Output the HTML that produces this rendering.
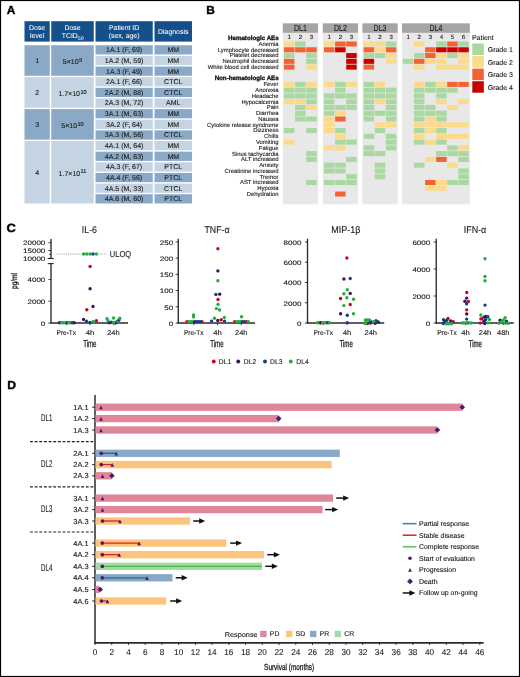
<!DOCTYPE html>
<html><head><meta charset="utf-8"><style>
html,body{margin:0;padding:0;background:#fff;}
body{width:520px;height:677px;overflow:hidden;}
svg{display:block;font-family:"Liberation Sans", sans-serif;will-change:transform;text-rendering:geometricPrecision;}
</style></head><body>
<svg width="520" height="677" viewBox="0 0 520 677">
<rect x="0" y="0" width="520" height="677" fill="#fff"/>
<text x="6.80" y="14.20" font-size="11.8" text-anchor="start" font-weight="bold" fill="#000" stroke="#000" stroke-width="0.4" textLength="8.6" lengthAdjust="spacingAndGlyphs" >A</text>
<text x="206.20" y="14.20" font-size="11.8" text-anchor="start" font-weight="bold" fill="#000" stroke="#000" stroke-width="0.4" textLength="8.6" lengthAdjust="spacingAndGlyphs" >B</text>
<text x="6.50" y="232.20" font-size="11.8" text-anchor="start" font-weight="bold" fill="#000" stroke="#000" stroke-width="0.4" textLength="9.4" lengthAdjust="spacingAndGlyphs" >C</text>
<text x="7.20" y="388.90" font-size="11.8" text-anchor="start" font-weight="bold" fill="#000" stroke="#000" stroke-width="0.4" textLength="8.8" lengthAdjust="spacingAndGlyphs" >D</text>
<rect x="24.50" y="21.20" width="25.25" height="20.40" fill="#15508a" />
<rect x="51.25" y="21.20" width="42.50" height="20.40" fill="#15508a" />
<rect x="95.50" y="21.20" width="57.25" height="20.40" fill="#15508a" />
<rect x="154.50" y="21.20" width="37.50" height="20.40" fill="#15508a" />
<text x="37.12" y="29.60" font-size="6.9" text-anchor="middle" font-weight="normal" fill="#fff" stroke="#fff" stroke-width="0.04" >Dose</text>
<text x="37.12" y="37.80" font-size="6.9" text-anchor="middle" font-weight="normal" fill="#fff" stroke="#fff" stroke-width="0.04" >level</text>
<text x="72.50" y="29.60" font-size="6.9" text-anchor="middle" font-weight="normal" fill="#fff" stroke="#fff" stroke-width="0.04" >Dose</text>
<text x="72.70" y="37.8" font-size="6.9" text-anchor="middle" fill="#fff" stroke="#fff" stroke-width="0.04">TCID<tspan font-size="5.2" dy="2.0">50</tspan></text>
<text x="124.12" y="29.60" font-size="6.9" text-anchor="middle" font-weight="normal" fill="#fff" stroke="#fff" stroke-width="0.04" >Patient ID</text>
<text x="124.12" y="37.80" font-size="6.9" text-anchor="middle" font-weight="normal" fill="#fff" stroke="#fff" stroke-width="0.04" >(sex, age)</text>
<text x="173.25" y="33.70" font-size="6.9" text-anchor="middle" font-weight="normal" fill="#fff" stroke="#fff" stroke-width="0.04" >Diagnosis</text>
<rect x="24.50" y="45.25" width="25.25" height="30.53" fill="#89a9c7" />
<rect x="51.25" y="45.25" width="42.50" height="30.53" fill="#89a9c7" />
<text x="37.12" y="63.02" font-size="7" text-anchor="middle" font-weight="normal" fill="#1a1a1a" stroke="#1a1a1a" stroke-width="0.12" >1</text>
<text x="72.50" y="64.11" font-size="7" text-anchor="middle" fill="#1a1a1a" stroke="#1a1a1a" stroke-width="0.12">5×10<tspan font-size="5.6" dy="-2.4" dx="0.4">9</tspan></text>
<rect x="24.50" y="77.17" width="25.25" height="30.53" fill="#c4d4e2" />
<rect x="51.25" y="77.17" width="42.50" height="30.53" fill="#c4d4e2" />
<text x="37.12" y="94.94" font-size="7" text-anchor="middle" font-weight="normal" fill="#1a1a1a" stroke="#1a1a1a" stroke-width="0.12" >2</text>
<text x="72.50" y="96.03" font-size="7" text-anchor="middle" fill="#1a1a1a" stroke="#1a1a1a" stroke-width="0.12">1.7×10<tspan font-size="5.6" dy="-2.4" dx="0.4">10</tspan></text>
<rect x="24.50" y="109.09" width="25.25" height="30.53" fill="#89a9c7" />
<rect x="51.25" y="109.09" width="42.50" height="30.53" fill="#89a9c7" />
<text x="37.12" y="126.86" font-size="7" text-anchor="middle" font-weight="normal" fill="#1a1a1a" stroke="#1a1a1a" stroke-width="0.12" >3</text>
<text x="72.50" y="127.95" font-size="7" text-anchor="middle" fill="#1a1a1a" stroke="#1a1a1a" stroke-width="0.12">5×10<tspan font-size="5.6" dy="-2.4" dx="0.4">10</tspan></text>
<rect x="24.50" y="141.01" width="25.25" height="62.45" fill="#c4d4e2" />
<rect x="51.25" y="141.01" width="42.50" height="62.45" fill="#c4d4e2" />
<text x="37.12" y="174.74" font-size="7" text-anchor="middle" font-weight="normal" fill="#1a1a1a" stroke="#1a1a1a" stroke-width="0.12" >4</text>
<text x="72.50" y="175.84" font-size="7" text-anchor="middle" fill="#1a1a1a" stroke="#1a1a1a" stroke-width="0.12">1.7×10<tspan font-size="5.6" dy="-2.4" dx="0.4">11</tspan></text>
<rect x="95.50" y="45.25" width="57.25" height="9.25" fill="#89a9c7" />
<rect x="154.50" y="45.25" width="37.50" height="9.25" fill="#89a9c7" />
<text x="124.12" y="52.25" font-size="7" text-anchor="middle" font-weight="normal" fill="#1a1a1a" stroke="#1a1a1a" stroke-width="0.12" >1A.1 (F, 69)</text>
<text x="173.25" y="52.25" font-size="7" text-anchor="middle" font-weight="normal" fill="#1a1a1a" stroke="#1a1a1a" stroke-width="0.12" >MM</text>
<rect x="95.50" y="55.89" width="57.25" height="9.25" fill="#c4d4e2" />
<rect x="154.50" y="55.89" width="37.50" height="9.25" fill="#c4d4e2" />
<text x="124.12" y="62.89" font-size="7" text-anchor="middle" font-weight="normal" fill="#1a1a1a" stroke="#1a1a1a" stroke-width="0.12" >1A.2 (M, 59)</text>
<text x="173.25" y="62.89" font-size="7" text-anchor="middle" font-weight="normal" fill="#1a1a1a" stroke="#1a1a1a" stroke-width="0.12" >MM</text>
<rect x="95.50" y="66.53" width="57.25" height="9.25" fill="#89a9c7" />
<rect x="154.50" y="66.53" width="37.50" height="9.25" fill="#89a9c7" />
<text x="124.12" y="73.53" font-size="7" text-anchor="middle" font-weight="normal" fill="#1a1a1a" stroke="#1a1a1a" stroke-width="0.12" >1A.3 (F, 49)</text>
<text x="173.25" y="73.53" font-size="7" text-anchor="middle" font-weight="normal" fill="#1a1a1a" stroke="#1a1a1a" stroke-width="0.12" >MM</text>
<rect x="95.50" y="77.17" width="57.25" height="9.25" fill="#c4d4e2" />
<rect x="154.50" y="77.17" width="37.50" height="9.25" fill="#c4d4e2" />
<text x="124.12" y="84.17" font-size="7" text-anchor="middle" font-weight="normal" fill="#1a1a1a" stroke="#1a1a1a" stroke-width="0.12" >2A.1 (F, 66)</text>
<text x="173.25" y="84.17" font-size="7" text-anchor="middle" font-weight="normal" fill="#1a1a1a" stroke="#1a1a1a" stroke-width="0.12" >CTCL</text>
<rect x="95.50" y="87.81" width="57.25" height="9.25" fill="#89a9c7" />
<rect x="154.50" y="87.81" width="37.50" height="9.25" fill="#89a9c7" />
<text x="124.12" y="94.81" font-size="7" text-anchor="middle" font-weight="normal" fill="#1a1a1a" stroke="#1a1a1a" stroke-width="0.12" >2A.2 (M, 88)</text>
<text x="173.25" y="94.81" font-size="7" text-anchor="middle" font-weight="normal" fill="#1a1a1a" stroke="#1a1a1a" stroke-width="0.12" >CTCL</text>
<rect x="95.50" y="98.45" width="57.25" height="9.25" fill="#c4d4e2" />
<rect x="154.50" y="98.45" width="37.50" height="9.25" fill="#c4d4e2" />
<text x="124.12" y="105.45" font-size="7" text-anchor="middle" font-weight="normal" fill="#1a1a1a" stroke="#1a1a1a" stroke-width="0.12" >2A.3 (M, 72)</text>
<text x="173.25" y="105.45" font-size="7" text-anchor="middle" font-weight="normal" fill="#1a1a1a" stroke="#1a1a1a" stroke-width="0.12" >AML</text>
<rect x="95.50" y="109.09" width="57.25" height="9.25" fill="#89a9c7" />
<rect x="154.50" y="109.09" width="37.50" height="9.25" fill="#89a9c7" />
<text x="124.12" y="116.09" font-size="7" text-anchor="middle" font-weight="normal" fill="#1a1a1a" stroke="#1a1a1a" stroke-width="0.12" >3A.1 (M, 63)</text>
<text x="173.25" y="116.09" font-size="7" text-anchor="middle" font-weight="normal" fill="#1a1a1a" stroke="#1a1a1a" stroke-width="0.12" >MM</text>
<rect x="95.50" y="119.73" width="57.25" height="9.25" fill="#c4d4e2" />
<rect x="154.50" y="119.73" width="37.50" height="9.25" fill="#c4d4e2" />
<text x="124.12" y="126.73" font-size="7" text-anchor="middle" font-weight="normal" fill="#1a1a1a" stroke="#1a1a1a" stroke-width="0.12" >3A.2 (F, 64)</text>
<text x="173.25" y="126.73" font-size="7" text-anchor="middle" font-weight="normal" fill="#1a1a1a" stroke="#1a1a1a" stroke-width="0.12" >MM</text>
<rect x="95.50" y="130.37" width="57.25" height="9.25" fill="#89a9c7" />
<rect x="154.50" y="130.37" width="37.50" height="9.25" fill="#89a9c7" />
<text x="124.12" y="137.37" font-size="7" text-anchor="middle" font-weight="normal" fill="#1a1a1a" stroke="#1a1a1a" stroke-width="0.12" >3A.3 (M, 56)</text>
<text x="173.25" y="137.37" font-size="7" text-anchor="middle" font-weight="normal" fill="#1a1a1a" stroke="#1a1a1a" stroke-width="0.12" >CTCL</text>
<rect x="95.50" y="141.01" width="57.25" height="9.25" fill="#c4d4e2" />
<rect x="154.50" y="141.01" width="37.50" height="9.25" fill="#c4d4e2" />
<text x="124.12" y="148.01" font-size="7" text-anchor="middle" font-weight="normal" fill="#1a1a1a" stroke="#1a1a1a" stroke-width="0.12" >4A.1 (M, 64)</text>
<text x="173.25" y="148.01" font-size="7" text-anchor="middle" font-weight="normal" fill="#1a1a1a" stroke="#1a1a1a" stroke-width="0.12" >MM</text>
<rect x="95.50" y="151.65" width="57.25" height="9.25" fill="#89a9c7" />
<rect x="154.50" y="151.65" width="37.50" height="9.25" fill="#89a9c7" />
<text x="124.12" y="158.65" font-size="7" text-anchor="middle" font-weight="normal" fill="#1a1a1a" stroke="#1a1a1a" stroke-width="0.12" >4A.2 (M, 63)</text>
<text x="173.25" y="158.65" font-size="7" text-anchor="middle" font-weight="normal" fill="#1a1a1a" stroke="#1a1a1a" stroke-width="0.12" >MM</text>
<rect x="95.50" y="162.29" width="57.25" height="9.25" fill="#c4d4e2" />
<rect x="154.50" y="162.29" width="37.50" height="9.25" fill="#c4d4e2" />
<text x="124.12" y="169.29" font-size="7" text-anchor="middle" font-weight="normal" fill="#1a1a1a" stroke="#1a1a1a" stroke-width="0.12" >4A.3 (F, 67)</text>
<text x="173.25" y="169.29" font-size="7" text-anchor="middle" font-weight="normal" fill="#1a1a1a" stroke="#1a1a1a" stroke-width="0.12" >PTCL</text>
<rect x="95.50" y="172.93" width="57.25" height="9.25" fill="#89a9c7" />
<rect x="154.50" y="172.93" width="37.50" height="9.25" fill="#89a9c7" />
<text x="124.12" y="179.93" font-size="7" text-anchor="middle" font-weight="normal" fill="#1a1a1a" stroke="#1a1a1a" stroke-width="0.12" >4A.4 (F, 56)</text>
<text x="173.25" y="179.93" font-size="7" text-anchor="middle" font-weight="normal" fill="#1a1a1a" stroke="#1a1a1a" stroke-width="0.12" >PTCL</text>
<rect x="95.50" y="183.57" width="57.25" height="9.25" fill="#c4d4e2" />
<rect x="154.50" y="183.57" width="37.50" height="9.25" fill="#c4d4e2" />
<text x="124.12" y="190.57" font-size="7" text-anchor="middle" font-weight="normal" fill="#1a1a1a" stroke="#1a1a1a" stroke-width="0.12" >4A.5 (M, 33)</text>
<text x="173.25" y="190.57" font-size="7" text-anchor="middle" font-weight="normal" fill="#1a1a1a" stroke="#1a1a1a" stroke-width="0.12" >CTCL</text>
<rect x="95.50" y="194.21" width="57.25" height="9.25" fill="#89a9c7" />
<rect x="154.50" y="194.21" width="37.50" height="9.25" fill="#89a9c7" />
<text x="124.12" y="201.21" font-size="7" text-anchor="middle" font-weight="normal" fill="#1a1a1a" stroke="#1a1a1a" stroke-width="0.12" >4A.6 (M, 60)</text>
<text x="173.25" y="201.21" font-size="7" text-anchor="middle" font-weight="normal" fill="#1a1a1a" stroke="#1a1a1a" stroke-width="0.12" >PTCL</text>
<rect x="282.75" y="23.30" width="35.35" height="9.60" fill="#a8a4a3" />
<rect x="282.75" y="32.90" width="35.35" height="171.40" fill="#e8e8e8" />
<text x="300.43" y="30.80" font-size="8.9" text-anchor="middle" font-weight="normal" fill="#1a1a1a" stroke="#1a1a1a" stroke-width="0.12" textLength="12.9" lengthAdjust="spacingAndGlyphs" >DL1</text>
<text x="289.25" y="39.40" font-size="6.1" text-anchor="middle" font-weight="normal" fill="#1a1a1a" stroke="#1a1a1a" stroke-width="0.1" >1</text>
<text x="300.35" y="39.40" font-size="6.1" text-anchor="middle" font-weight="normal" fill="#1a1a1a" stroke="#1a1a1a" stroke-width="0.1" >2</text>
<text x="311.45" y="39.40" font-size="6.1" text-anchor="middle" font-weight="normal" fill="#1a1a1a" stroke="#1a1a1a" stroke-width="0.1" >3</text>
<rect x="322.75" y="23.30" width="35.35" height="9.60" fill="#a8a4a3" />
<rect x="322.75" y="32.90" width="35.35" height="171.40" fill="#e8e8e8" />
<text x="340.43" y="30.80" font-size="8.9" text-anchor="middle" font-weight="normal" fill="#1a1a1a" stroke="#1a1a1a" stroke-width="0.12" textLength="12.9" lengthAdjust="spacingAndGlyphs" >DL2</text>
<text x="329.25" y="39.40" font-size="6.1" text-anchor="middle" font-weight="normal" fill="#1a1a1a" stroke="#1a1a1a" stroke-width="0.1" >1</text>
<text x="340.35" y="39.40" font-size="6.1" text-anchor="middle" font-weight="normal" fill="#1a1a1a" stroke="#1a1a1a" stroke-width="0.1" >2</text>
<text x="351.45" y="39.40" font-size="6.1" text-anchor="middle" font-weight="normal" fill="#1a1a1a" stroke="#1a1a1a" stroke-width="0.1" >3</text>
<rect x="362.40" y="23.30" width="35.35" height="9.60" fill="#a8a4a3" />
<rect x="362.40" y="32.90" width="35.35" height="171.40" fill="#e8e8e8" />
<text x="380.07" y="30.80" font-size="8.9" text-anchor="middle" font-weight="normal" fill="#1a1a1a" stroke="#1a1a1a" stroke-width="0.12" textLength="12.9" lengthAdjust="spacingAndGlyphs" >DL3</text>
<text x="368.90" y="39.40" font-size="6.1" text-anchor="middle" font-weight="normal" fill="#1a1a1a" stroke="#1a1a1a" stroke-width="0.1" >1</text>
<text x="380.00" y="39.40" font-size="6.1" text-anchor="middle" font-weight="normal" fill="#1a1a1a" stroke="#1a1a1a" stroke-width="0.1" >2</text>
<text x="391.10" y="39.40" font-size="6.1" text-anchor="middle" font-weight="normal" fill="#1a1a1a" stroke="#1a1a1a" stroke-width="0.1" >3</text>
<rect x="402.00" y="23.30" width="67.80" height="9.60" fill="#a8a4a3" />
<rect x="402.00" y="32.90" width="67.80" height="171.40" fill="#e8e8e8" />
<text x="435.90" y="30.80" font-size="8.9" text-anchor="middle" font-weight="normal" fill="#1a1a1a" stroke="#1a1a1a" stroke-width="0.12" textLength="12.9" lengthAdjust="spacingAndGlyphs" >DL4</text>
<text x="408.20" y="39.40" font-size="6.1" text-anchor="middle" font-weight="normal" fill="#1a1a1a" stroke="#1a1a1a" stroke-width="0.1" >1</text>
<text x="419.27" y="39.40" font-size="6.1" text-anchor="middle" font-weight="normal" fill="#1a1a1a" stroke="#1a1a1a" stroke-width="0.1" >2</text>
<text x="430.34" y="39.40" font-size="6.1" text-anchor="middle" font-weight="normal" fill="#1a1a1a" stroke="#1a1a1a" stroke-width="0.1" >3</text>
<text x="441.41" y="39.40" font-size="6.1" text-anchor="middle" font-weight="normal" fill="#1a1a1a" stroke="#1a1a1a" stroke-width="0.1" >4</text>
<text x="452.48" y="39.40" font-size="6.1" text-anchor="middle" font-weight="normal" fill="#1a1a1a" stroke="#1a1a1a" stroke-width="0.1" >5</text>
<text x="463.55" y="39.40" font-size="6.1" text-anchor="middle" font-weight="normal" fill="#1a1a1a" stroke="#1a1a1a" stroke-width="0.1" >6</text>
<rect x="284.00" y="41.50" width="10.50" height="5.05" fill="#fdd98a" />
<rect x="295.10" y="41.50" width="10.50" height="5.05" fill="#a9d8a1" />
<rect x="324.00" y="41.50" width="10.50" height="5.05" fill="#fdd98a" />
<rect x="335.10" y="41.50" width="10.50" height="5.05" fill="#f16335" />
<rect x="346.20" y="41.50" width="10.50" height="5.05" fill="#f16335" />
<rect x="363.65" y="41.50" width="10.50" height="5.05" fill="#fdd98a" />
<rect x="374.75" y="41.50" width="10.50" height="5.05" fill="#fdd98a" />
<rect x="385.85" y="41.50" width="10.50" height="5.05" fill="#a9d8a1" />
<rect x="414.02" y="41.50" width="10.50" height="5.05" fill="#fdd98a" />
<rect x="436.16" y="41.50" width="10.50" height="5.05" fill="#a9d8a1" />
<rect x="447.23" y="41.50" width="10.50" height="5.05" fill="#f16335" />
<rect x="458.30" y="41.50" width="10.50" height="5.05" fill="#a9d8a1" />
<rect x="284.00" y="47.27" width="10.50" height="5.05" fill="#f16335" />
<rect x="295.10" y="47.27" width="10.50" height="5.05" fill="#f16335" />
<rect x="306.20" y="47.27" width="10.50" height="5.05" fill="#f16335" />
<rect x="324.00" y="47.27" width="10.50" height="5.05" fill="#f16335" />
<rect x="335.10" y="47.27" width="10.50" height="5.05" fill="#c90000" />
<rect x="363.65" y="47.27" width="10.50" height="5.05" fill="#f16335" />
<rect x="374.75" y="47.27" width="10.50" height="5.05" fill="#fdd98a" />
<rect x="385.85" y="47.27" width="10.50" height="5.05" fill="#f16335" />
<rect x="425.09" y="47.27" width="10.50" height="5.05" fill="#f16335" />
<rect x="436.16" y="47.27" width="10.50" height="5.05" fill="#c90000" />
<rect x="447.23" y="47.27" width="10.50" height="5.05" fill="#c90000" />
<rect x="458.30" y="47.27" width="10.50" height="5.05" fill="#c90000" />
<rect x="284.00" y="53.04" width="10.50" height="5.05" fill="#a9d8a1" />
<rect x="306.20" y="53.04" width="10.50" height="5.05" fill="#a9d8a1" />
<rect x="346.20" y="53.04" width="10.50" height="5.05" fill="#c90000" />
<rect x="363.65" y="53.04" width="10.50" height="5.05" fill="#a9d8a1" />
<rect x="374.75" y="53.04" width="10.50" height="5.05" fill="#a9d8a1" />
<rect x="385.85" y="53.04" width="10.50" height="5.05" fill="#fdd98a" />
<rect x="414.02" y="53.04" width="10.50" height="5.05" fill="#a9d8a1" />
<rect x="425.09" y="53.04" width="10.50" height="5.05" fill="#f16335" />
<rect x="436.16" y="53.04" width="10.50" height="5.05" fill="#fdd98a" />
<rect x="447.23" y="53.04" width="10.50" height="5.05" fill="#a9d8a1" />
<rect x="458.30" y="53.04" width="10.50" height="5.05" fill="#fdd98a" />
<rect x="284.00" y="58.81" width="10.50" height="5.05" fill="#f16335" />
<rect x="306.20" y="58.81" width="10.50" height="5.05" fill="#a9d8a1" />
<rect x="346.20" y="58.81" width="10.50" height="5.05" fill="#c90000" />
<rect x="363.65" y="58.81" width="10.50" height="5.05" fill="#c90000" />
<rect x="385.85" y="58.81" width="10.50" height="5.05" fill="#fdd98a" />
<rect x="402.95" y="58.81" width="10.50" height="5.05" fill="#a9d8a1" />
<rect x="414.02" y="58.81" width="10.50" height="5.05" fill="#f16335" />
<rect x="425.09" y="58.81" width="10.50" height="5.05" fill="#fdd98a" />
<rect x="436.16" y="58.81" width="10.50" height="5.05" fill="#fdd98a" />
<rect x="458.30" y="58.81" width="10.50" height="5.05" fill="#fdd98a" />
<rect x="284.00" y="64.58" width="10.50" height="5.05" fill="#f16335" />
<rect x="306.20" y="64.58" width="10.50" height="5.05" fill="#fdd98a" />
<rect x="346.20" y="64.58" width="10.50" height="5.05" fill="#c90000" />
<rect x="363.65" y="64.58" width="10.50" height="5.05" fill="#f16335" />
<rect x="414.02" y="64.58" width="10.50" height="5.05" fill="#fdd98a" />
<rect x="436.16" y="64.58" width="10.50" height="5.05" fill="#fdd98a" />
<rect x="447.23" y="64.58" width="10.50" height="5.05" fill="#fdd98a" />
<rect x="458.30" y="64.58" width="10.50" height="5.05" fill="#fdd98a" />
<rect x="284.00" y="81.89" width="10.50" height="5.05" fill="#fdd98a" />
<rect x="295.10" y="81.89" width="10.50" height="5.05" fill="#a9d8a1" />
<rect x="306.20" y="81.89" width="10.50" height="5.05" fill="#fdd98a" />
<rect x="324.00" y="81.89" width="10.50" height="5.05" fill="#fdd98a" />
<rect x="335.10" y="81.89" width="10.50" height="5.05" fill="#a9d8a1" />
<rect x="346.20" y="81.89" width="10.50" height="5.05" fill="#fdd98a" />
<rect x="363.65" y="81.89" width="10.50" height="5.05" fill="#a9d8a1" />
<rect x="374.75" y="81.89" width="10.50" height="5.05" fill="#fdd98a" />
<rect x="414.02" y="81.89" width="10.50" height="5.05" fill="#fdd98a" />
<rect x="425.09" y="81.89" width="10.50" height="5.05" fill="#a9d8a1" />
<rect x="436.16" y="81.89" width="10.50" height="5.05" fill="#fdd98a" />
<rect x="447.23" y="81.89" width="10.50" height="5.05" fill="#f16335" />
<rect x="458.30" y="81.89" width="10.50" height="5.05" fill="#f16335" />
<rect x="284.00" y="87.66" width="10.50" height="5.05" fill="#a9d8a1" />
<rect x="295.10" y="87.66" width="10.50" height="5.05" fill="#a9d8a1" />
<rect x="306.20" y="87.66" width="10.50" height="5.05" fill="#a9d8a1" />
<rect x="335.10" y="87.66" width="10.50" height="5.05" fill="#a9d8a1" />
<rect x="363.65" y="87.66" width="10.50" height="5.05" fill="#a9d8a1" />
<rect x="374.75" y="87.66" width="10.50" height="5.05" fill="#a9d8a1" />
<rect x="385.85" y="87.66" width="10.50" height="5.05" fill="#a9d8a1" />
<rect x="414.02" y="87.66" width="10.50" height="5.05" fill="#a9d8a1" />
<rect x="425.09" y="87.66" width="10.50" height="5.05" fill="#a9d8a1" />
<rect x="436.16" y="87.66" width="10.50" height="5.05" fill="#a9d8a1" />
<rect x="447.23" y="87.66" width="10.50" height="5.05" fill="#a9d8a1" />
<rect x="284.00" y="93.43" width="10.50" height="5.05" fill="#a9d8a1" />
<rect x="295.10" y="93.43" width="10.50" height="5.05" fill="#a9d8a1" />
<rect x="306.20" y="93.43" width="10.50" height="5.05" fill="#a9d8a1" />
<rect x="324.00" y="93.43" width="10.50" height="5.05" fill="#a9d8a1" />
<rect x="335.10" y="93.43" width="10.50" height="5.05" fill="#a9d8a1" />
<rect x="346.20" y="93.43" width="10.50" height="5.05" fill="#a9d8a1" />
<rect x="363.65" y="93.43" width="10.50" height="5.05" fill="#a9d8a1" />
<rect x="374.75" y="93.43" width="10.50" height="5.05" fill="#a9d8a1" />
<rect x="385.85" y="93.43" width="10.50" height="5.05" fill="#a9d8a1" />
<rect x="414.02" y="93.43" width="10.50" height="5.05" fill="#a9d8a1" />
<rect x="436.16" y="93.43" width="10.50" height="5.05" fill="#a9d8a1" />
<rect x="284.00" y="99.20" width="10.50" height="5.05" fill="#fdd98a" />
<rect x="295.10" y="99.20" width="10.50" height="5.05" fill="#fdd98a" />
<rect x="306.20" y="99.20" width="10.50" height="5.05" fill="#a9d8a1" />
<rect x="324.00" y="99.20" width="10.50" height="5.05" fill="#a9d8a1" />
<rect x="346.20" y="99.20" width="10.50" height="5.05" fill="#a9d8a1" />
<rect x="363.65" y="99.20" width="10.50" height="5.05" fill="#a9d8a1" />
<rect x="374.75" y="99.20" width="10.50" height="5.05" fill="#fdd98a" />
<rect x="385.85" y="99.20" width="10.50" height="5.05" fill="#a9d8a1" />
<rect x="414.02" y="99.20" width="10.50" height="5.05" fill="#a9d8a1" />
<rect x="436.16" y="99.20" width="10.50" height="5.05" fill="#fdd98a" />
<rect x="458.30" y="99.20" width="10.50" height="5.05" fill="#fdd98a" />
<rect x="295.10" y="104.97" width="10.50" height="5.05" fill="#a9d8a1" />
<rect x="306.20" y="104.97" width="10.50" height="5.05" fill="#fdd98a" />
<rect x="324.00" y="104.97" width="10.50" height="5.05" fill="#a9d8a1" />
<rect x="335.10" y="104.97" width="10.50" height="5.05" fill="#a9d8a1" />
<rect x="346.20" y="104.97" width="10.50" height="5.05" fill="#a9d8a1" />
<rect x="363.65" y="104.97" width="10.50" height="5.05" fill="#a9d8a1" />
<rect x="385.85" y="104.97" width="10.50" height="5.05" fill="#a9d8a1" />
<rect x="414.02" y="104.97" width="10.50" height="5.05" fill="#a9d8a1" />
<rect x="425.09" y="104.97" width="10.50" height="5.05" fill="#a9d8a1" />
<rect x="447.23" y="104.97" width="10.50" height="5.05" fill="#fdd98a" />
<rect x="295.10" y="110.74" width="10.50" height="5.05" fill="#a9d8a1" />
<rect x="324.00" y="110.74" width="10.50" height="5.05" fill="#a9d8a1" />
<rect x="335.10" y="110.74" width="10.50" height="5.05" fill="#fdd98a" />
<rect x="363.65" y="110.74" width="10.50" height="5.05" fill="#a9d8a1" />
<rect x="374.75" y="110.74" width="10.50" height="5.05" fill="#a9d8a1" />
<rect x="385.85" y="110.74" width="10.50" height="5.05" fill="#a9d8a1" />
<rect x="414.02" y="110.74" width="10.50" height="5.05" fill="#a9d8a1" />
<rect x="425.09" y="110.74" width="10.50" height="5.05" fill="#a9d8a1" />
<rect x="436.16" y="110.74" width="10.50" height="5.05" fill="#a9d8a1" />
<rect x="295.10" y="116.51" width="10.50" height="5.05" fill="#a9d8a1" />
<rect x="306.20" y="116.51" width="10.50" height="5.05" fill="#a9d8a1" />
<rect x="324.00" y="116.51" width="10.50" height="5.05" fill="#fdd98a" />
<rect x="335.10" y="116.51" width="10.50" height="5.05" fill="#f16335" />
<rect x="363.65" y="116.51" width="10.50" height="5.05" fill="#a9d8a1" />
<rect x="385.85" y="116.51" width="10.50" height="5.05" fill="#a9d8a1" />
<rect x="414.02" y="116.51" width="10.50" height="5.05" fill="#a9d8a1" />
<rect x="425.09" y="116.51" width="10.50" height="5.05" fill="#fdd98a" />
<rect x="436.16" y="116.51" width="10.50" height="5.05" fill="#a9d8a1" />
<rect x="324.00" y="122.28" width="10.50" height="5.05" fill="#fdd98a" />
<rect x="374.75" y="122.28" width="10.50" height="5.05" fill="#fdd98a" />
<rect x="385.85" y="122.28" width="10.50" height="5.05" fill="#fdd98a" />
<rect x="414.02" y="122.28" width="10.50" height="5.05" fill="#fdd98a" />
<rect x="425.09" y="122.28" width="10.50" height="5.05" fill="#fdd98a" />
<rect x="436.16" y="122.28" width="10.50" height="5.05" fill="#fdd98a" />
<rect x="447.23" y="122.28" width="10.50" height="5.05" fill="#fdd98a" />
<rect x="458.30" y="122.28" width="10.50" height="5.05" fill="#fdd98a" />
<rect x="284.00" y="128.05" width="10.50" height="5.05" fill="#a9d8a1" />
<rect x="306.20" y="128.05" width="10.50" height="5.05" fill="#a9d8a1" />
<rect x="324.00" y="128.05" width="10.50" height="5.05" fill="#fdd98a" />
<rect x="335.10" y="128.05" width="10.50" height="5.05" fill="#a9d8a1" />
<rect x="374.75" y="128.05" width="10.50" height="5.05" fill="#a9d8a1" />
<rect x="414.02" y="128.05" width="10.50" height="5.05" fill="#a9d8a1" />
<rect x="425.09" y="128.05" width="10.50" height="5.05" fill="#fdd98a" />
<rect x="436.16" y="128.05" width="10.50" height="5.05" fill="#a9d8a1" />
<rect x="335.10" y="133.82" width="10.50" height="5.05" fill="#fdd98a" />
<rect x="363.65" y="133.82" width="10.50" height="5.05" fill="#a9d8a1" />
<rect x="385.85" y="133.82" width="10.50" height="5.05" fill="#a9d8a1" />
<rect x="414.02" y="133.82" width="10.50" height="5.05" fill="#fdd98a" />
<rect x="436.16" y="133.82" width="10.50" height="5.05" fill="#fdd98a" />
<rect x="447.23" y="133.82" width="10.50" height="5.05" fill="#fdd98a" />
<rect x="458.30" y="133.82" width="10.50" height="5.05" fill="#fdd98a" />
<rect x="284.00" y="139.59" width="10.50" height="5.05" fill="#fdd98a" />
<rect x="335.10" y="139.59" width="10.50" height="5.05" fill="#a9d8a1" />
<rect x="346.20" y="139.59" width="10.50" height="5.05" fill="#a9d8a1" />
<rect x="385.85" y="139.59" width="10.50" height="5.05" fill="#a9d8a1" />
<rect x="414.02" y="139.59" width="10.50" height="5.05" fill="#a9d8a1" />
<rect x="425.09" y="139.59" width="10.50" height="5.05" fill="#fdd98a" />
<rect x="436.16" y="139.59" width="10.50" height="5.05" fill="#a9d8a1" />
<rect x="324.00" y="145.36" width="10.50" height="5.05" fill="#fdd98a" />
<rect x="335.10" y="145.36" width="10.50" height="5.05" fill="#fdd98a" />
<rect x="363.65" y="145.36" width="10.50" height="5.05" fill="#a9d8a1" />
<rect x="385.85" y="145.36" width="10.50" height="5.05" fill="#a9d8a1" />
<rect x="447.23" y="145.36" width="10.50" height="5.05" fill="#a9d8a1" />
<rect x="458.30" y="145.36" width="10.50" height="5.05" fill="#fdd98a" />
<rect x="306.20" y="151.13" width="10.50" height="5.05" fill="#a9d8a1" />
<rect x="363.65" y="151.13" width="10.50" height="5.05" fill="#a9d8a1" />
<rect x="374.75" y="151.13" width="10.50" height="5.05" fill="#a9d8a1" />
<rect x="436.16" y="151.13" width="10.50" height="5.05" fill="#a9d8a1" />
<rect x="447.23" y="151.13" width="10.50" height="5.05" fill="#a9d8a1" />
<rect x="458.30" y="151.13" width="10.50" height="5.05" fill="#a9d8a1" />
<rect x="306.20" y="156.90" width="10.50" height="5.05" fill="#a9d8a1" />
<rect x="346.20" y="156.90" width="10.50" height="5.05" fill="#a9d8a1" />
<rect x="425.09" y="156.90" width="10.50" height="5.05" fill="#fdd98a" />
<rect x="436.16" y="156.90" width="10.50" height="5.05" fill="#f16335" />
<rect x="458.30" y="156.90" width="10.50" height="5.05" fill="#a9d8a1" />
<rect x="324.00" y="162.67" width="10.50" height="5.05" fill="#a9d8a1" />
<rect x="335.10" y="162.67" width="10.50" height="5.05" fill="#a9d8a1" />
<rect x="374.75" y="162.67" width="10.50" height="5.05" fill="#a9d8a1" />
<rect x="414.02" y="162.67" width="10.50" height="5.05" fill="#a9d8a1" />
<rect x="447.23" y="162.67" width="10.50" height="5.05" fill="#fdd98a" />
<rect x="324.00" y="168.44" width="10.50" height="5.05" fill="#a9d8a1" />
<rect x="335.10" y="168.44" width="10.50" height="5.05" fill="#a9d8a1" />
<rect x="374.75" y="168.44" width="10.50" height="5.05" fill="#a9d8a1" />
<rect x="458.30" y="168.44" width="10.50" height="5.05" fill="#a9d8a1" />
<rect x="346.20" y="174.21" width="10.50" height="5.05" fill="#a9d8a1" />
<rect x="374.75" y="174.21" width="10.50" height="5.05" fill="#a9d8a1" />
<rect x="458.30" y="174.21" width="10.50" height="5.05" fill="#a9d8a1" />
<rect x="306.20" y="179.98" width="10.50" height="5.05" fill="#a9d8a1" />
<rect x="324.00" y="179.98" width="10.50" height="5.05" fill="#a9d8a1" />
<rect x="335.10" y="179.98" width="10.50" height="5.05" fill="#a9d8a1" />
<rect x="346.20" y="179.98" width="10.50" height="5.05" fill="#a9d8a1" />
<rect x="425.09" y="179.98" width="10.50" height="5.05" fill="#f16335" />
<rect x="436.16" y="179.98" width="10.50" height="5.05" fill="#fdd98a" />
<rect x="447.23" y="179.98" width="10.50" height="5.05" fill="#a9d8a1" />
<rect x="458.30" y="179.98" width="10.50" height="5.05" fill="#a9d8a1" />
<rect x="425.09" y="185.75" width="10.50" height="5.05" fill="#fdd98a" />
<rect x="436.16" y="185.75" width="10.50" height="5.05" fill="#fdd98a" />
<rect x="335.10" y="191.52" width="10.50" height="5.05" fill="#f16335" />
<text x="278.50" y="45.90" font-size="5.9" text-anchor="end" font-weight="normal" fill="#222" stroke="#222" stroke-width="0.12" >Anemia</text>
<text x="278.50" y="51.67" font-size="5.9" text-anchor="end" font-weight="normal" fill="#222" stroke="#222" stroke-width="0.12" >Lymphocyte decreased</text>
<text x="278.50" y="57.44" font-size="5.9" text-anchor="end" font-weight="normal" fill="#222" stroke="#222" stroke-width="0.12" >Platelet decreased</text>
<text x="278.50" y="63.21" font-size="5.9" text-anchor="end" font-weight="normal" fill="#222" stroke="#222" stroke-width="0.12" >Neutrophil decreased</text>
<text x="278.50" y="68.98" font-size="5.9" text-anchor="end" font-weight="normal" fill="#222" stroke="#222" stroke-width="0.12" >White blood cell decreased</text>
<text x="278.50" y="86.29" font-size="5.9" text-anchor="end" font-weight="normal" fill="#222" stroke="#222" stroke-width="0.12" >Fever</text>
<text x="278.50" y="92.06" font-size="5.9" text-anchor="end" font-weight="normal" fill="#222" stroke="#222" stroke-width="0.12" >Anorexia</text>
<text x="278.50" y="97.83" font-size="5.9" text-anchor="end" font-weight="normal" fill="#222" stroke="#222" stroke-width="0.12" >Headache</text>
<text x="278.50" y="103.60" font-size="5.9" text-anchor="end" font-weight="normal" fill="#222" stroke="#222" stroke-width="0.12" >Hypocalcemia</text>
<text x="278.50" y="109.37" font-size="5.9" text-anchor="end" font-weight="normal" fill="#222" stroke="#222" stroke-width="0.12" >Pain</text>
<text x="278.50" y="115.14" font-size="5.9" text-anchor="end" font-weight="normal" fill="#222" stroke="#222" stroke-width="0.12" >Diarrhea</text>
<text x="278.50" y="120.91" font-size="5.9" text-anchor="end" font-weight="normal" fill="#222" stroke="#222" stroke-width="0.12" >Nausea</text>
<text x="278.50" y="126.68" font-size="5.9" text-anchor="end" font-weight="normal" fill="#222" stroke="#222" stroke-width="0.12" >Cytokine release syndrome</text>
<text x="278.50" y="132.45" font-size="5.9" text-anchor="end" font-weight="normal" fill="#222" stroke="#222" stroke-width="0.12" >Dizziness</text>
<text x="278.50" y="138.22" font-size="5.9" text-anchor="end" font-weight="normal" fill="#222" stroke="#222" stroke-width="0.12" >Chills</text>
<text x="278.50" y="143.99" font-size="5.9" text-anchor="end" font-weight="normal" fill="#222" stroke="#222" stroke-width="0.12" >Vomiting</text>
<text x="278.50" y="149.76" font-size="5.9" text-anchor="end" font-weight="normal" fill="#222" stroke="#222" stroke-width="0.12" >Fatigue</text>
<text x="278.50" y="155.53" font-size="5.9" text-anchor="end" font-weight="normal" fill="#222" stroke="#222" stroke-width="0.12" >Sinus tachycardia</text>
<text x="278.50" y="161.30" font-size="5.9" text-anchor="end" font-weight="normal" fill="#222" stroke="#222" stroke-width="0.12" >ALT increased</text>
<text x="278.50" y="167.07" font-size="5.9" text-anchor="end" font-weight="normal" fill="#222" stroke="#222" stroke-width="0.12" >Anxiety</text>
<text x="278.50" y="172.84" font-size="5.9" text-anchor="end" font-weight="normal" fill="#222" stroke="#222" stroke-width="0.12" >Creatinine increased</text>
<text x="278.50" y="178.61" font-size="5.9" text-anchor="end" font-weight="normal" fill="#222" stroke="#222" stroke-width="0.12" >Tremor</text>
<text x="278.50" y="184.38" font-size="5.9" text-anchor="end" font-weight="normal" fill="#222" stroke="#222" stroke-width="0.12" >AST increased</text>
<text x="278.50" y="190.15" font-size="5.9" text-anchor="end" font-weight="normal" fill="#222" stroke="#222" stroke-width="0.12" >Hypoxia</text>
<text x="278.50" y="195.92" font-size="5.9" text-anchor="end" font-weight="normal" fill="#222" stroke="#222" stroke-width="0.12" >Dehydration</text>
<text x="278.70" y="39.70" font-size="6.2" text-anchor="end" font-weight="bold" fill="#111" stroke="#111" stroke-width="0.3" >Hematologic AEs</text>
<text x="278.70" y="79.90" font-size="6.2" text-anchor="end" font-weight="bold" fill="#111" stroke="#111" stroke-width="0.3" >Non-hematologic AEs</text>
<text x="471.90" y="39.80" font-size="7" text-anchor="start" font-weight="normal" fill="#222" stroke="#222" stroke-width="0.12" >Patient</text>
<rect x="472.30" y="43.50" width="11.50" height="11.50" fill="#a9d8a1" />
<text x="487.70" y="52.30" font-size="7" text-anchor="start" font-weight="normal" fill="#1a1a1a" stroke="#1a1a1a" stroke-width="0.12" >Grade 1</text>
<rect x="472.30" y="56.07" width="11.50" height="11.50" fill="#fdd98a" />
<text x="487.70" y="64.87" font-size="7" text-anchor="start" font-weight="normal" fill="#1a1a1a" stroke="#1a1a1a" stroke-width="0.12" >Grade 2</text>
<rect x="472.30" y="68.64" width="11.50" height="11.50" fill="#f16335" />
<text x="487.70" y="77.44" font-size="7" text-anchor="start" font-weight="normal" fill="#1a1a1a" stroke="#1a1a1a" stroke-width="0.12" >Grade 3</text>
<rect x="472.30" y="81.21" width="11.50" height="11.50" fill="#c90000" />
<text x="487.70" y="90.01" font-size="7" text-anchor="start" font-weight="normal" fill="#1a1a1a" stroke="#1a1a1a" stroke-width="0.12" >Grade 4</text>
<line x1="51.00" y1="239.10" x2="51.00" y2="258.50" stroke="#2a2a2a" stroke-width="1.35" />
<line x1="51.00" y1="263.60" x2="51.00" y2="323.60" stroke="#2a2a2a" stroke-width="1.35" />
<line x1="47.75" y1="258.50" x2="53.75" y2="258.50" stroke="#2a2a2a" stroke-width="1.1" />
<line x1="47.75" y1="263.60" x2="53.75" y2="263.60" stroke="#2a2a2a" stroke-width="1.1" />
<line x1="49.00" y1="250.60" x2="51.00" y2="250.60" stroke="#2a2a2a" stroke-width="0.8" />
<line x1="49.00" y1="254.40" x2="51.00" y2="254.40" stroke="#2a2a2a" stroke-width="0.8" />
<line x1="50.40" y1="323.00" x2="128.00" y2="323.00" stroke="#2a2a2a" stroke-width="1.35" />
<line x1="48.40" y1="242.70" x2="51.00" y2="242.70" stroke="#2a2a2a" stroke-width="0.9" />
<text x="45.30" y="244.85" font-size="6.4" text-anchor="end" font-weight="normal" fill="#1a1a1a" stroke="#1a1a1a" stroke-width="0.12" textLength="22.25" lengthAdjust="spacingAndGlyphs" >20000</text>
<line x1="48.40" y1="250.50" x2="51.00" y2="250.50" stroke="#2a2a2a" stroke-width="0.9" />
<text x="45.30" y="252.55" font-size="6.4" text-anchor="end" font-weight="normal" fill="#1a1a1a" stroke="#1a1a1a" stroke-width="0.12" textLength="22.25" lengthAdjust="spacingAndGlyphs" >15000</text>
<line x1="48.40" y1="258.40" x2="51.00" y2="258.40" stroke="#2a2a2a" stroke-width="0.9" />
<text x="45.30" y="260.55" font-size="6.4" text-anchor="end" font-weight="normal" fill="#1a1a1a" stroke="#1a1a1a" stroke-width="0.12" textLength="22.25" lengthAdjust="spacingAndGlyphs" >10000</text>
<line x1="48.40" y1="279.50" x2="51.00" y2="279.50" stroke="#2a2a2a" stroke-width="0.9" />
<text x="45.30" y="282.25" font-size="6.4" text-anchor="end" font-weight="normal" fill="#1a1a1a" stroke="#1a1a1a" stroke-width="0.12" textLength="17.8" lengthAdjust="spacingAndGlyphs" >4000</text>
<line x1="48.40" y1="301.25" x2="51.00" y2="301.25" stroke="#2a2a2a" stroke-width="0.9" />
<text x="45.30" y="304.00" font-size="6.4" text-anchor="end" font-weight="normal" fill="#1a1a1a" stroke="#1a1a1a" stroke-width="0.12" textLength="17.8" lengthAdjust="spacingAndGlyphs" >2000</text>
<line x1="48.40" y1="323.00" x2="51.00" y2="323.00" stroke="#2a2a2a" stroke-width="0.9" />
<text x="45.30" y="325.75" font-size="6.4" text-anchor="end" font-weight="normal" fill="#1a1a1a" stroke="#1a1a1a" stroke-width="0.12" textLength="4.45" lengthAdjust="spacingAndGlyphs" >0</text>
<line x1="66.30" y1="323.00" x2="66.30" y2="325.20" stroke="#2a2a2a" stroke-width="0.9" />
<text x="66.30" y="334.50" font-size="7.0" text-anchor="middle" font-weight="normal" fill="#1a1a1a" stroke="#1a1a1a" stroke-width="0.12" textLength="19.5" lengthAdjust="spacingAndGlyphs" >Pre-Tx</text>
<line x1="90.00" y1="323.00" x2="90.00" y2="325.20" stroke="#2a2a2a" stroke-width="0.9" />
<text x="90.00" y="334.50" font-size="7.0" text-anchor="middle" font-weight="normal" fill="#1a1a1a" stroke="#1a1a1a" stroke-width="0.12" textLength="8.6" lengthAdjust="spacingAndGlyphs" >4h</text>
<line x1="113.40" y1="323.00" x2="113.40" y2="325.20" stroke="#2a2a2a" stroke-width="0.9" />
<text x="113.40" y="334.50" font-size="7.0" text-anchor="middle" font-weight="normal" fill="#1a1a1a" stroke="#1a1a1a" stroke-width="0.12" textLength="12.5" lengthAdjust="spacingAndGlyphs" >24h</text>
<text x="89.40" y="233.10" font-size="9.7" text-anchor="middle" font-weight="normal" fill="#1a1a1a" stroke="#1a1a1a" stroke-width="0.12" textLength="15.2" lengthAdjust="spacingAndGlyphs" >IL-6</text>
<text x="89.80" y="347.10" font-size="9.9" text-anchor="middle" font-weight="normal" fill="#1a1a1a" stroke="#1a1a1a" stroke-width="0.3" textLength="13.3" lengthAdjust="spacingAndGlyphs" >Time</text>
<line x1="56.50" y1="254.10" x2="106.30" y2="254.10" stroke="#8a8a8a" stroke-width="0.8" stroke-dasharray="1 0.9"/>
<text x="109.80" y="256.90" font-size="8.5" text-anchor="start" font-weight="normal" fill="#1a1a1a" stroke="#1a1a1a" stroke-width="0.12" textLength="21.3" lengthAdjust="spacingAndGlyphs" >ULOQ</text>
<text transform="translate(16.7,281.0) rotate(-90)" font-size="8.2" text-anchor="middle" fill="#1a1a1a" stroke="#1a1a1a" stroke-width="0.3" textLength="16" lengthAdjust="spacingAndGlyphs">pg/ml</text>
<line x1="178.25" y1="238.75" x2="178.25" y2="323.60" stroke="#2a2a2a" stroke-width="1.35" />
<line x1="177.65" y1="323.00" x2="255.00" y2="323.00" stroke="#2a2a2a" stroke-width="1.35" />
<line x1="175.65" y1="323.00" x2="178.25" y2="323.00" stroke="#2a2a2a" stroke-width="0.9" />
<text x="173.20" y="325.75" font-size="6.4" text-anchor="end" font-weight="normal" fill="#1a1a1a" stroke="#1a1a1a" stroke-width="0.12" textLength="4.45" lengthAdjust="spacingAndGlyphs" >0</text>
<line x1="175.65" y1="306.78" x2="178.25" y2="306.78" stroke="#2a2a2a" stroke-width="0.9" />
<text x="173.20" y="309.53" font-size="6.4" text-anchor="end" font-weight="normal" fill="#1a1a1a" stroke="#1a1a1a" stroke-width="0.12" textLength="8.9" lengthAdjust="spacingAndGlyphs" >50</text>
<line x1="175.65" y1="290.56" x2="178.25" y2="290.56" stroke="#2a2a2a" stroke-width="0.9" />
<text x="173.20" y="293.31" font-size="6.4" text-anchor="end" font-weight="normal" fill="#1a1a1a" stroke="#1a1a1a" stroke-width="0.12" textLength="13.350000000000001" lengthAdjust="spacingAndGlyphs" >100</text>
<line x1="175.65" y1="274.34" x2="178.25" y2="274.34" stroke="#2a2a2a" stroke-width="0.9" />
<text x="173.20" y="277.09" font-size="6.4" text-anchor="end" font-weight="normal" fill="#1a1a1a" stroke="#1a1a1a" stroke-width="0.12" textLength="13.350000000000001" lengthAdjust="spacingAndGlyphs" >150</text>
<line x1="175.65" y1="258.12" x2="178.25" y2="258.12" stroke="#2a2a2a" stroke-width="0.9" />
<text x="173.20" y="260.87" font-size="6.4" text-anchor="end" font-weight="normal" fill="#1a1a1a" stroke="#1a1a1a" stroke-width="0.12" textLength="13.350000000000001" lengthAdjust="spacingAndGlyphs" >200</text>
<line x1="175.65" y1="241.90" x2="178.25" y2="241.90" stroke="#2a2a2a" stroke-width="0.9" />
<text x="173.20" y="244.65" font-size="6.4" text-anchor="end" font-weight="normal" fill="#1a1a1a" stroke="#1a1a1a" stroke-width="0.12" textLength="13.350000000000001" lengthAdjust="spacingAndGlyphs" >250</text>
<line x1="193.75" y1="323.00" x2="193.75" y2="325.20" stroke="#2a2a2a" stroke-width="0.9" />
<text x="193.75" y="334.50" font-size="7.0" text-anchor="middle" font-weight="normal" fill="#1a1a1a" stroke="#1a1a1a" stroke-width="0.12" textLength="19.5" lengthAdjust="spacingAndGlyphs" >Pre-Tx</text>
<line x1="217.50" y1="323.00" x2="217.50" y2="325.20" stroke="#2a2a2a" stroke-width="0.9" />
<text x="217.50" y="334.50" font-size="7.0" text-anchor="middle" font-weight="normal" fill="#1a1a1a" stroke="#1a1a1a" stroke-width="0.12" textLength="8.6" lengthAdjust="spacingAndGlyphs" >4h</text>
<line x1="241.25" y1="323.00" x2="241.25" y2="325.20" stroke="#2a2a2a" stroke-width="0.9" />
<text x="241.25" y="334.50" font-size="7.0" text-anchor="middle" font-weight="normal" fill="#1a1a1a" stroke="#1a1a1a" stroke-width="0.12" textLength="12.5" lengthAdjust="spacingAndGlyphs" >24h</text>
<text x="217.00" y="233.10" font-size="9.7" text-anchor="middle" font-weight="normal" fill="#1a1a1a" stroke="#1a1a1a" stroke-width="0.12" textLength="25" lengthAdjust="spacingAndGlyphs" >TNF-α</text>
<text x="216.93" y="347.10" font-size="9.9" text-anchor="middle" font-weight="normal" fill="#1a1a1a" stroke="#1a1a1a" stroke-width="0.3" textLength="13.3" lengthAdjust="spacingAndGlyphs" >Time</text>
<line x1="307.50" y1="238.75" x2="307.50" y2="323.60" stroke="#2a2a2a" stroke-width="1.35" />
<line x1="306.90" y1="323.00" x2="384.25" y2="323.00" stroke="#2a2a2a" stroke-width="1.35" />
<line x1="304.90" y1="323.00" x2="307.50" y2="323.00" stroke="#2a2a2a" stroke-width="0.9" />
<text x="301.40" y="325.75" font-size="6.4" text-anchor="end" font-weight="normal" fill="#1a1a1a" stroke="#1a1a1a" stroke-width="0.12" textLength="4.45" lengthAdjust="spacingAndGlyphs" >0</text>
<line x1="304.90" y1="302.75" x2="307.50" y2="302.75" stroke="#2a2a2a" stroke-width="0.9" />
<text x="301.40" y="305.50" font-size="6.4" text-anchor="end" font-weight="normal" fill="#1a1a1a" stroke="#1a1a1a" stroke-width="0.12" textLength="17.8" lengthAdjust="spacingAndGlyphs" >2000</text>
<line x1="304.90" y1="282.50" x2="307.50" y2="282.50" stroke="#2a2a2a" stroke-width="0.9" />
<text x="301.40" y="285.25" font-size="6.4" text-anchor="end" font-weight="normal" fill="#1a1a1a" stroke="#1a1a1a" stroke-width="0.12" textLength="17.8" lengthAdjust="spacingAndGlyphs" >4000</text>
<line x1="304.90" y1="262.25" x2="307.50" y2="262.25" stroke="#2a2a2a" stroke-width="0.9" />
<text x="301.40" y="265.00" font-size="6.4" text-anchor="end" font-weight="normal" fill="#1a1a1a" stroke="#1a1a1a" stroke-width="0.12" textLength="17.8" lengthAdjust="spacingAndGlyphs" >6000</text>
<line x1="304.90" y1="242.00" x2="307.50" y2="242.00" stroke="#2a2a2a" stroke-width="0.9" />
<text x="301.40" y="244.75" font-size="6.4" text-anchor="end" font-weight="normal" fill="#1a1a1a" stroke="#1a1a1a" stroke-width="0.12" textLength="17.8" lengthAdjust="spacingAndGlyphs" >8000</text>
<line x1="323.25" y1="323.00" x2="323.25" y2="325.20" stroke="#2a2a2a" stroke-width="0.9" />
<text x="323.25" y="334.50" font-size="7.0" text-anchor="middle" font-weight="normal" fill="#1a1a1a" stroke="#1a1a1a" stroke-width="0.12" textLength="19.5" lengthAdjust="spacingAndGlyphs" >Pre-Tx</text>
<line x1="347.00" y1="323.00" x2="347.00" y2="325.20" stroke="#2a2a2a" stroke-width="0.9" />
<text x="347.00" y="334.50" font-size="7.0" text-anchor="middle" font-weight="normal" fill="#1a1a1a" stroke="#1a1a1a" stroke-width="0.12" textLength="8.6" lengthAdjust="spacingAndGlyphs" >4h</text>
<line x1="370.75" y1="323.00" x2="370.75" y2="325.20" stroke="#2a2a2a" stroke-width="0.9" />
<text x="370.75" y="334.50" font-size="7.0" text-anchor="middle" font-weight="normal" fill="#1a1a1a" stroke="#1a1a1a" stroke-width="0.12" textLength="12.5" lengthAdjust="spacingAndGlyphs" >24h</text>
<text x="345.90" y="233.10" font-size="9.7" text-anchor="middle" font-weight="normal" fill="#1a1a1a" stroke="#1a1a1a" stroke-width="0.12" textLength="29.2" lengthAdjust="spacingAndGlyphs" >MIP-1β</text>
<text x="346.18" y="347.10" font-size="9.9" text-anchor="middle" font-weight="normal" fill="#1a1a1a" stroke="#1a1a1a" stroke-width="0.3" textLength="13.3" lengthAdjust="spacingAndGlyphs" >Time</text>
<line x1="436.25" y1="238.75" x2="436.25" y2="323.60" stroke="#2a2a2a" stroke-width="1.35" />
<line x1="435.65" y1="323.00" x2="513.75" y2="323.00" stroke="#2a2a2a" stroke-width="1.35" />
<line x1="433.65" y1="323.00" x2="436.25" y2="323.00" stroke="#2a2a2a" stroke-width="0.9" />
<text x="430.20" y="325.75" font-size="6.4" text-anchor="end" font-weight="normal" fill="#1a1a1a" stroke="#1a1a1a" stroke-width="0.12" textLength="4.45" lengthAdjust="spacingAndGlyphs" >0</text>
<line x1="433.65" y1="296.00" x2="436.25" y2="296.00" stroke="#2a2a2a" stroke-width="0.9" />
<text x="430.20" y="298.75" font-size="6.4" text-anchor="end" font-weight="normal" fill="#1a1a1a" stroke="#1a1a1a" stroke-width="0.12" textLength="17.8" lengthAdjust="spacingAndGlyphs" >2000</text>
<line x1="433.65" y1="269.00" x2="436.25" y2="269.00" stroke="#2a2a2a" stroke-width="0.9" />
<text x="430.20" y="271.75" font-size="6.4" text-anchor="end" font-weight="normal" fill="#1a1a1a" stroke="#1a1a1a" stroke-width="0.12" textLength="17.8" lengthAdjust="spacingAndGlyphs" >4000</text>
<line x1="433.65" y1="242.00" x2="436.25" y2="242.00" stroke="#2a2a2a" stroke-width="0.9" />
<text x="430.20" y="244.75" font-size="6.4" text-anchor="end" font-weight="normal" fill="#1a1a1a" stroke="#1a1a1a" stroke-width="0.12" textLength="17.8" lengthAdjust="spacingAndGlyphs" >6000</text>
<line x1="447.00" y1="323.00" x2="447.00" y2="325.20" stroke="#2a2a2a" stroke-width="0.9" />
<text x="447.00" y="334.50" font-size="7.0" text-anchor="middle" font-weight="normal" fill="#1a1a1a" stroke="#1a1a1a" stroke-width="0.12" textLength="19.5" lengthAdjust="spacingAndGlyphs" >Pre-Tx</text>
<line x1="465.50" y1="323.00" x2="465.50" y2="325.20" stroke="#2a2a2a" stroke-width="0.9" />
<text x="465.50" y="334.50" font-size="7.0" text-anchor="middle" font-weight="normal" fill="#1a1a1a" stroke="#1a1a1a" stroke-width="0.12" textLength="8.6" lengthAdjust="spacingAndGlyphs" >4h</text>
<line x1="485.00" y1="323.00" x2="485.00" y2="325.20" stroke="#2a2a2a" stroke-width="0.9" />
<text x="485.00" y="334.50" font-size="7.0" text-anchor="middle" font-weight="normal" fill="#1a1a1a" stroke="#1a1a1a" stroke-width="0.12" textLength="12.5" lengthAdjust="spacingAndGlyphs" >24h</text>
<line x1="503.25" y1="323.00" x2="503.25" y2="325.20" stroke="#2a2a2a" stroke-width="0.9" />
<text x="503.25" y="334.50" font-size="7.0" text-anchor="middle" font-weight="normal" fill="#1a1a1a" stroke="#1a1a1a" stroke-width="0.12" textLength="12.5" lengthAdjust="spacingAndGlyphs" >48h</text>
<text x="475.00" y="233.10" font-size="9.7" text-anchor="middle" font-weight="normal" fill="#1a1a1a" stroke="#1a1a1a" stroke-width="0.12" textLength="22.5" lengthAdjust="spacingAndGlyphs" >IFN-α</text>
<text x="475.30" y="347.10" font-size="9.9" text-anchor="middle" font-weight="normal" fill="#1a1a1a" stroke="#1a1a1a" stroke-width="0.3" textLength="13.3" lengthAdjust="spacingAndGlyphs" >Time</text>
<circle cx="59.50" cy="322.70" r="1.68" fill="#430e61"/>
<circle cx="74.20" cy="322.70" r="1.68" fill="#430e61"/>
<circle cx="61.50" cy="322.70" r="1.68" fill="#25ab3e"/>
<circle cx="63.50" cy="322.70" r="1.68" fill="#25ab3e"/>
<circle cx="65.50" cy="322.70" r="1.68" fill="#25ab3e"/>
<circle cx="67.20" cy="322.70" r="1.68" fill="#0f4082"/>
<circle cx="68.80" cy="322.70" r="1.68" fill="#25ab3e"/>
<circle cx="70.50" cy="322.70" r="1.68" fill="#25ab3e"/>
<circle cx="72.30" cy="322.70" r="1.68" fill="#0f4082"/>
<circle cx="83.65" cy="254.00" r="1.68" fill="#25ab3e"/>
<circle cx="86.80" cy="254.00" r="1.68" fill="#25ab3e"/>
<circle cx="90.00" cy="254.00" r="1.68" fill="#25ab3e"/>
<circle cx="96.35" cy="254.00" r="1.68" fill="#25ab3e"/>
<circle cx="93.00" cy="254.00" r="1.68" fill="#0f4082"/>
<circle cx="90.10" cy="266.40" r="1.68" fill="#c9031f"/>
<circle cx="90.10" cy="288.70" r="1.68" fill="#430e61"/>
<circle cx="93.00" cy="306.50" r="1.68" fill="#430e61"/>
<circle cx="86.80" cy="309.75" r="1.68" fill="#c9031f"/>
<circle cx="83.50" cy="319.40" r="1.68" fill="#430e61"/>
<circle cx="86.50" cy="321.15" r="1.68" fill="#0f4082"/>
<circle cx="90.00" cy="322.50" r="1.68" fill="#0f4082"/>
<circle cx="93.20" cy="321.50" r="1.68" fill="#25ab3e"/>
<circle cx="96.40" cy="320.70" r="1.68" fill="#c9031f"/>
<circle cx="109.00" cy="322.75" r="1.68" fill="#430e61"/>
<circle cx="115.50" cy="323.00" r="1.68" fill="#430e61"/>
<circle cx="107.00" cy="318.75" r="1.68" fill="#25ab3e"/>
<circle cx="108.00" cy="320.75" r="1.68" fill="#25ab3e"/>
<circle cx="111.25" cy="322.25" r="1.68" fill="#0f4082"/>
<circle cx="113.50" cy="318.00" r="1.68" fill="#25ab3e"/>
<circle cx="113.60" cy="322.50" r="1.68" fill="#25ab3e"/>
<circle cx="117.00" cy="321.75" r="1.68" fill="#0f4082"/>
<circle cx="118.00" cy="321.50" r="1.68" fill="#25ab3e"/>
<circle cx="119.00" cy="320.00" r="1.68" fill="#0f4082"/>
<circle cx="119.75" cy="318.25" r="1.68" fill="#25ab3e"/>
<circle cx="187.00" cy="321.60" r="1.68" fill="#c9031f"/>
<circle cx="201.90" cy="321.60" r="1.68" fill="#c9031f"/>
<circle cx="188.50" cy="321.60" r="1.68" fill="#25ab3e"/>
<circle cx="190.30" cy="321.60" r="1.68" fill="#25ab3e"/>
<circle cx="192.20" cy="321.60" r="1.68" fill="#25ab3e"/>
<circle cx="194.60" cy="321.60" r="1.68" fill="#430e61"/>
<circle cx="196.60" cy="321.60" r="1.68" fill="#0f4082"/>
<circle cx="198.50" cy="321.60" r="1.68" fill="#0f4082"/>
<circle cx="200.20" cy="321.60" r="1.68" fill="#0f4082"/>
<circle cx="193.60" cy="314.90" r="1.68" fill="#25ab3e"/>
<circle cx="193.60" cy="316.90" r="1.68" fill="#25ab3e"/>
<circle cx="217.90" cy="248.80" r="1.68" fill="#c9031f"/>
<circle cx="217.90" cy="270.90" r="1.68" fill="#430e61"/>
<circle cx="217.90" cy="280.70" r="1.68" fill="#25ab3e"/>
<circle cx="215.85" cy="294.50" r="1.68" fill="#0f4082"/>
<circle cx="219.70" cy="294.15" r="1.68" fill="#430e61"/>
<circle cx="218.00" cy="299.50" r="1.68" fill="#c9031f"/>
<circle cx="218.00" cy="304.40" r="1.68" fill="#25ab3e"/>
<circle cx="216.40" cy="308.60" r="1.68" fill="#25ab3e"/>
<circle cx="219.55" cy="309.95" r="1.68" fill="#25ab3e"/>
<circle cx="214.50" cy="318.20" r="1.68" fill="#25ab3e"/>
<circle cx="211.60" cy="321.10" r="1.68" fill="#0f4082"/>
<circle cx="217.80" cy="320.40" r="1.68" fill="#430e61"/>
<circle cx="221.20" cy="319.80" r="1.68" fill="#c9031f"/>
<circle cx="224.35" cy="317.40" r="1.68" fill="#25ab3e"/>
<circle cx="224.50" cy="321.10" r="1.68" fill="#0f4082"/>
<circle cx="234.70" cy="321.60" r="1.68" fill="#c9031f"/>
<circle cx="246.60" cy="321.60" r="1.68" fill="#c9031f"/>
<circle cx="236.30" cy="321.60" r="1.68" fill="#25ab3e"/>
<circle cx="238.20" cy="321.60" r="1.68" fill="#25ab3e"/>
<circle cx="240.10" cy="321.60" r="1.68" fill="#25ab3e"/>
<circle cx="242.30" cy="321.60" r="1.68" fill="#0f4082"/>
<circle cx="244.30" cy="321.60" r="1.68" fill="#0f4082"/>
<circle cx="248.30" cy="321.60" r="1.68" fill="#25ab3e"/>
<circle cx="241.50" cy="316.70" r="1.68" fill="#25ab3e"/>
<circle cx="320.60" cy="322.75" r="1.68" fill="#c9031f"/>
<circle cx="317.50" cy="322.75" r="1.68" fill="#25ab3e"/>
<circle cx="319.20" cy="322.75" r="1.68" fill="#25ab3e"/>
<circle cx="320.80" cy="322.75" r="1.68" fill="#430e61"/>
<circle cx="322.60" cy="322.75" r="1.68" fill="#25ab3e"/>
<circle cx="324.40" cy="322.75" r="1.68" fill="#25ab3e"/>
<circle cx="326.10" cy="322.75" r="1.68" fill="#25ab3e"/>
<circle cx="327.80" cy="322.75" r="1.68" fill="#0f4082"/>
<circle cx="329.50" cy="322.75" r="1.68" fill="#25ab3e"/>
<circle cx="346.90" cy="258.00" r="1.68" fill="#c9031f"/>
<circle cx="343.90" cy="279.00" r="1.68" fill="#430e61"/>
<circle cx="350.20" cy="278.50" r="1.68" fill="#0f4082"/>
<circle cx="347.30" cy="289.70" r="1.68" fill="#25ab3e"/>
<circle cx="343.90" cy="293.80" r="1.68" fill="#25ab3e"/>
<circle cx="350.20" cy="293.40" r="1.68" fill="#430e61"/>
<circle cx="340.60" cy="298.50" r="1.68" fill="#c9031f"/>
<circle cx="346.90" cy="297.70" r="1.68" fill="#25ab3e"/>
<circle cx="353.50" cy="299.30" r="1.68" fill="#25ab3e"/>
<circle cx="343.90" cy="305.60" r="1.68" fill="#25ab3e"/>
<circle cx="350.20" cy="304.50" r="1.68" fill="#c9031f"/>
<circle cx="340.60" cy="313.80" r="1.68" fill="#430e61"/>
<circle cx="353.50" cy="313.80" r="1.68" fill="#25ab3e"/>
<circle cx="347.30" cy="315.20" r="1.68" fill="#0f4082"/>
<circle cx="347.30" cy="322.60" r="1.68" fill="#0f4082"/>
<circle cx="367.50" cy="323.50" r="1.68" fill="#c9031f"/>
<circle cx="375.00" cy="323.25" r="1.68" fill="#430e61"/>
<circle cx="376.00" cy="320.75" r="1.68" fill="#c9031f"/>
<circle cx="365.00" cy="323.50" r="1.68" fill="#25ab3e"/>
<circle cx="365.60" cy="322.50" r="1.68" fill="#25ab3e"/>
<circle cx="365.50" cy="320.00" r="1.68" fill="#25ab3e"/>
<circle cx="367.50" cy="320.00" r="1.68" fill="#25ab3e"/>
<circle cx="369.50" cy="320.00" r="1.68" fill="#25ab3e"/>
<circle cx="369.75" cy="322.75" r="1.68" fill="#0f4082"/>
<circle cx="371.25" cy="322.00" r="1.68" fill="#0f4082"/>
<circle cx="373.75" cy="321.75" r="1.68" fill="#25ab3e"/>
<circle cx="377.50" cy="321.75" r="1.68" fill="#0f4082"/>
<circle cx="378.50" cy="322.25" r="1.68" fill="#0f4082"/>
<circle cx="443.50" cy="319.75" r="1.68" fill="#0f4082"/>
<circle cx="443.25" cy="323.50" r="1.68" fill="#0f4082"/>
<circle cx="445.00" cy="321.75" r="1.68" fill="#430e61"/>
<circle cx="446.75" cy="320.25" r="1.68" fill="#0f4082"/>
<circle cx="448.00" cy="318.50" r="1.68" fill="#c9031f"/>
<circle cx="450.75" cy="321.00" r="1.68" fill="#430e61"/>
<circle cx="453.25" cy="321.75" r="1.68" fill="#c9031f"/>
<circle cx="446.25" cy="323.75" r="1.68" fill="#25ab3e"/>
<circle cx="448.75" cy="323.75" r="1.68" fill="#25ab3e"/>
<circle cx="451.50" cy="323.75" r="1.68" fill="#25ab3e"/>
<circle cx="466.75" cy="292.50" r="1.68" fill="#c9031f"/>
<circle cx="466.65" cy="298.10" r="1.68" fill="#430e61"/>
<circle cx="464.90" cy="301.20" r="1.68" fill="#430e61"/>
<circle cx="468.40" cy="301.40" r="1.68" fill="#c9031f"/>
<circle cx="466.65" cy="303.75" r="1.68" fill="#0f4082"/>
<circle cx="466.65" cy="309.85" r="1.68" fill="#c9031f"/>
<circle cx="466.65" cy="313.90" r="1.68" fill="#430e61"/>
<circle cx="466.65" cy="319.10" r="1.68" fill="#0f4082"/>
<circle cx="462.00" cy="322.90" r="1.68" fill="#25ab3e"/>
<circle cx="464.00" cy="322.90" r="1.68" fill="#25ab3e"/>
<circle cx="467.70" cy="322.90" r="1.68" fill="#0f4082"/>
<circle cx="466.00" cy="322.90" r="1.68" fill="#25ab3e"/>
<circle cx="469.30" cy="322.90" r="1.68" fill="#25ab3e"/>
<circle cx="471.50" cy="322.90" r="1.68" fill="#25ab3e"/>
<circle cx="485.00" cy="258.70" r="1.68" fill="#25ab3e"/>
<circle cx="485.00" cy="276.40" r="1.68" fill="#25ab3e"/>
<circle cx="485.00" cy="280.70" r="1.68" fill="#25ab3e"/>
<circle cx="485.00" cy="305.10" r="1.68" fill="#0f4082"/>
<circle cx="480.85" cy="315.00" r="1.68" fill="#25ab3e"/>
<circle cx="480.85" cy="318.85" r="1.68" fill="#c9031f"/>
<circle cx="481.90" cy="318.85" r="1.68" fill="#c9031f"/>
<circle cx="484.00" cy="317.10" r="1.68" fill="#430e61"/>
<circle cx="485.70" cy="316.40" r="1.68" fill="#430e61"/>
<circle cx="487.80" cy="316.80" r="1.68" fill="#0f4082"/>
<circle cx="485.70" cy="319.50" r="1.68" fill="#0f4082"/>
<circle cx="489.50" cy="319.50" r="1.68" fill="#25ab3e"/>
<circle cx="484.00" cy="321.30" r="1.68" fill="#430e61"/>
<circle cx="480.20" cy="323.10" r="1.68" fill="#c9031f"/>
<circle cx="487.80" cy="322.90" r="1.68" fill="#25ab3e"/>
<circle cx="484.70" cy="323.40" r="1.68" fill="#430e61"/>
<circle cx="500.10" cy="320.15" r="1.68" fill="#430e61"/>
<circle cx="505.15" cy="317.60" r="1.68" fill="#25ab3e"/>
<circle cx="503.50" cy="319.90" r="1.68" fill="#25ab3e"/>
<circle cx="501.90" cy="321.75" r="1.68" fill="#25ab3e"/>
<circle cx="498.90" cy="323.15" r="1.68" fill="#25ab3e"/>
<circle cx="505.15" cy="323.15" r="1.68" fill="#25ab3e"/>
<circle cx="506.50" cy="321.10" r="1.68" fill="#0f4082"/>
<circle cx="508.15" cy="323.40" r="1.68" fill="#25ab3e"/>
<circle cx="213.75" cy="361.50" r="1.95" fill="#c9031f"/>
<text x="218.75" y="364.00" font-size="7" text-anchor="start" font-weight="normal" fill="#222" stroke="#222" stroke-width="0.12" textLength="12.4" lengthAdjust="spacingAndGlyphs" >DL1</text>
<circle cx="238.25" cy="361.50" r="1.95" fill="#430e61"/>
<text x="243.75" y="364.00" font-size="7" text-anchor="start" font-weight="normal" fill="#222" stroke="#222" stroke-width="0.12" textLength="12.4" lengthAdjust="spacingAndGlyphs" >DL2</text>
<circle cx="265.00" cy="361.50" r="1.95" fill="#0f4082"/>
<text x="270.00" y="364.00" font-size="7" text-anchor="start" font-weight="normal" fill="#222" stroke="#222" stroke-width="0.12" textLength="12.4" lengthAdjust="spacingAndGlyphs" >DL3</text>
<circle cx="290.75" cy="361.50" r="1.95" fill="#25ab3e"/>
<text x="296.25" y="364.00" font-size="7" text-anchor="start" font-weight="normal" fill="#222" stroke="#222" stroke-width="0.12" textLength="12.4" lengthAdjust="spacingAndGlyphs" >DL4</text>
<line x1="95.00" y1="395.00" x2="95.00" y2="643.50" stroke="#2a2a2a" stroke-width="1.5" />
<line x1="94.30" y1="642.80" x2="483.60" y2="642.80" stroke="#2a2a2a" stroke-width="1.7" />
<line x1="95.00" y1="642.70" x2="95.00" y2="645.00" stroke="#2a2a2a" stroke-width="0.9" />
<text x="95.00" y="655.20" font-size="8.3" text-anchor="middle" font-weight="normal" fill="#1a1a1a" stroke="#1a1a1a" stroke-width="0.1" textLength="4.55" lengthAdjust="spacingAndGlyphs" >0</text>
<line x1="111.73" y1="642.70" x2="111.73" y2="645.00" stroke="#2a2a2a" stroke-width="0.9" />
<text x="111.73" y="655.20" font-size="8.3" text-anchor="middle" font-weight="normal" fill="#1a1a1a" stroke="#1a1a1a" stroke-width="0.1" textLength="4.55" lengthAdjust="spacingAndGlyphs" >2</text>
<line x1="128.46" y1="642.70" x2="128.46" y2="645.00" stroke="#2a2a2a" stroke-width="0.9" />
<text x="128.46" y="655.20" font-size="8.3" text-anchor="middle" font-weight="normal" fill="#1a1a1a" stroke="#1a1a1a" stroke-width="0.1" textLength="4.55" lengthAdjust="spacingAndGlyphs" >4</text>
<line x1="145.19" y1="642.70" x2="145.19" y2="645.00" stroke="#2a2a2a" stroke-width="0.9" />
<text x="145.19" y="655.20" font-size="8.3" text-anchor="middle" font-weight="normal" fill="#1a1a1a" stroke="#1a1a1a" stroke-width="0.1" textLength="4.55" lengthAdjust="spacingAndGlyphs" >6</text>
<line x1="161.92" y1="642.70" x2="161.92" y2="645.00" stroke="#2a2a2a" stroke-width="0.9" />
<text x="161.92" y="655.20" font-size="8.3" text-anchor="middle" font-weight="normal" fill="#1a1a1a" stroke="#1a1a1a" stroke-width="0.1" textLength="4.55" lengthAdjust="spacingAndGlyphs" >8</text>
<line x1="178.65" y1="642.70" x2="178.65" y2="645.00" stroke="#2a2a2a" stroke-width="0.9" />
<text x="178.65" y="655.20" font-size="8.3" text-anchor="middle" font-weight="normal" fill="#1a1a1a" stroke="#1a1a1a" stroke-width="0.1" textLength="9.1" lengthAdjust="spacingAndGlyphs" >10</text>
<line x1="195.38" y1="642.70" x2="195.38" y2="645.00" stroke="#2a2a2a" stroke-width="0.9" />
<text x="195.38" y="655.20" font-size="8.3" text-anchor="middle" font-weight="normal" fill="#1a1a1a" stroke="#1a1a1a" stroke-width="0.1" textLength="9.1" lengthAdjust="spacingAndGlyphs" >12</text>
<line x1="212.11" y1="642.70" x2="212.11" y2="645.00" stroke="#2a2a2a" stroke-width="0.9" />
<text x="212.11" y="655.20" font-size="8.3" text-anchor="middle" font-weight="normal" fill="#1a1a1a" stroke="#1a1a1a" stroke-width="0.1" textLength="9.1" lengthAdjust="spacingAndGlyphs" >14</text>
<line x1="228.84" y1="642.70" x2="228.84" y2="645.00" stroke="#2a2a2a" stroke-width="0.9" />
<text x="228.84" y="655.20" font-size="8.3" text-anchor="middle" font-weight="normal" fill="#1a1a1a" stroke="#1a1a1a" stroke-width="0.1" textLength="9.1" lengthAdjust="spacingAndGlyphs" >16</text>
<line x1="245.57" y1="642.70" x2="245.57" y2="645.00" stroke="#2a2a2a" stroke-width="0.9" />
<text x="245.57" y="655.20" font-size="8.3" text-anchor="middle" font-weight="normal" fill="#1a1a1a" stroke="#1a1a1a" stroke-width="0.1" textLength="9.1" lengthAdjust="spacingAndGlyphs" >18</text>
<line x1="262.30" y1="642.70" x2="262.30" y2="645.00" stroke="#2a2a2a" stroke-width="0.9" />
<text x="262.30" y="655.20" font-size="8.3" text-anchor="middle" font-weight="normal" fill="#1a1a1a" stroke="#1a1a1a" stroke-width="0.1" textLength="9.1" lengthAdjust="spacingAndGlyphs" >20</text>
<line x1="279.03" y1="642.70" x2="279.03" y2="645.00" stroke="#2a2a2a" stroke-width="0.9" />
<text x="279.03" y="655.20" font-size="8.3" text-anchor="middle" font-weight="normal" fill="#1a1a1a" stroke="#1a1a1a" stroke-width="0.1" textLength="9.1" lengthAdjust="spacingAndGlyphs" >22</text>
<line x1="295.76" y1="642.70" x2="295.76" y2="645.00" stroke="#2a2a2a" stroke-width="0.9" />
<text x="295.76" y="655.20" font-size="8.3" text-anchor="middle" font-weight="normal" fill="#1a1a1a" stroke="#1a1a1a" stroke-width="0.1" textLength="9.1" lengthAdjust="spacingAndGlyphs" >24</text>
<line x1="312.49" y1="642.70" x2="312.49" y2="645.00" stroke="#2a2a2a" stroke-width="0.9" />
<text x="312.49" y="655.20" font-size="8.3" text-anchor="middle" font-weight="normal" fill="#1a1a1a" stroke="#1a1a1a" stroke-width="0.1" textLength="9.1" lengthAdjust="spacingAndGlyphs" >26</text>
<line x1="329.22" y1="642.70" x2="329.22" y2="645.00" stroke="#2a2a2a" stroke-width="0.9" />
<text x="329.22" y="655.20" font-size="8.3" text-anchor="middle" font-weight="normal" fill="#1a1a1a" stroke="#1a1a1a" stroke-width="0.1" textLength="9.1" lengthAdjust="spacingAndGlyphs" >28</text>
<line x1="345.95" y1="642.70" x2="345.95" y2="645.00" stroke="#2a2a2a" stroke-width="0.9" />
<text x="345.95" y="655.20" font-size="8.3" text-anchor="middle" font-weight="normal" fill="#1a1a1a" stroke="#1a1a1a" stroke-width="0.1" textLength="9.1" lengthAdjust="spacingAndGlyphs" >30</text>
<line x1="362.68" y1="642.70" x2="362.68" y2="645.00" stroke="#2a2a2a" stroke-width="0.9" />
<text x="362.68" y="655.20" font-size="8.3" text-anchor="middle" font-weight="normal" fill="#1a1a1a" stroke="#1a1a1a" stroke-width="0.1" textLength="9.1" lengthAdjust="spacingAndGlyphs" >32</text>
<line x1="379.41" y1="642.70" x2="379.41" y2="645.00" stroke="#2a2a2a" stroke-width="0.9" />
<text x="379.41" y="655.20" font-size="8.3" text-anchor="middle" font-weight="normal" fill="#1a1a1a" stroke="#1a1a1a" stroke-width="0.1" textLength="9.1" lengthAdjust="spacingAndGlyphs" >34</text>
<line x1="396.14" y1="642.70" x2="396.14" y2="645.00" stroke="#2a2a2a" stroke-width="0.9" />
<text x="396.14" y="655.20" font-size="8.3" text-anchor="middle" font-weight="normal" fill="#1a1a1a" stroke="#1a1a1a" stroke-width="0.1" textLength="9.1" lengthAdjust="spacingAndGlyphs" >36</text>
<line x1="412.87" y1="642.70" x2="412.87" y2="645.00" stroke="#2a2a2a" stroke-width="0.9" />
<text x="412.87" y="655.20" font-size="8.3" text-anchor="middle" font-weight="normal" fill="#1a1a1a" stroke="#1a1a1a" stroke-width="0.1" textLength="9.1" lengthAdjust="spacingAndGlyphs" >38</text>
<line x1="429.60" y1="642.70" x2="429.60" y2="645.00" stroke="#2a2a2a" stroke-width="0.9" />
<text x="429.60" y="655.20" font-size="8.3" text-anchor="middle" font-weight="normal" fill="#1a1a1a" stroke="#1a1a1a" stroke-width="0.1" textLength="9.1" lengthAdjust="spacingAndGlyphs" >40</text>
<line x1="446.33" y1="642.70" x2="446.33" y2="645.00" stroke="#2a2a2a" stroke-width="0.9" />
<text x="446.33" y="655.20" font-size="8.3" text-anchor="middle" font-weight="normal" fill="#1a1a1a" stroke="#1a1a1a" stroke-width="0.1" textLength="9.1" lengthAdjust="spacingAndGlyphs" >42</text>
<line x1="463.06" y1="642.70" x2="463.06" y2="645.00" stroke="#2a2a2a" stroke-width="0.9" />
<text x="463.06" y="655.20" font-size="8.3" text-anchor="middle" font-weight="normal" fill="#1a1a1a" stroke="#1a1a1a" stroke-width="0.1" textLength="9.1" lengthAdjust="spacingAndGlyphs" >44</text>
<line x1="479.79" y1="642.70" x2="479.79" y2="645.00" stroke="#2a2a2a" stroke-width="0.9" />
<text x="479.79" y="655.20" font-size="8.3" text-anchor="middle" font-weight="normal" fill="#1a1a1a" stroke="#1a1a1a" stroke-width="0.1" textLength="9.1" lengthAdjust="spacingAndGlyphs" >46</text>
<text x="289.10" y="670.30" font-size="8.9" text-anchor="middle" font-weight="normal" fill="#1a1a1a" stroke="#1a1a1a" stroke-width="0.3" textLength="50.0" lengthAdjust="spacingAndGlyphs" >Survival (months)</text>
<rect x="95.50" y="403.55" width="366.80" height="7.30" fill="#df8699" />
<line x1="92.20" y1="407.20" x2="95.00" y2="407.20" stroke="#2a2a2a" stroke-width="1.1" />
<text x="88.50" y="409.80" font-size="7.3" text-anchor="end" font-weight="normal" fill="#1a1a1a" stroke="#1a1a1a" stroke-width="0.14" textLength="15.2" lengthAdjust="spacingAndGlyphs" >1A.1</text>
<polygon points="99.10,409.34 102.90,409.34 101.00,405.66" fill="#4b1b6e"/>
<polygon points="462.30,404.40 465.10,407.20 462.30,410.00 459.50,407.20" fill="#4b1b6e"/>
<rect x="95.50" y="414.95" width="183.15" height="7.30" fill="#df8699" />
<line x1="92.20" y1="418.60" x2="95.00" y2="418.60" stroke="#2a2a2a" stroke-width="1.1" />
<text x="88.50" y="421.20" font-size="7.3" text-anchor="end" font-weight="normal" fill="#1a1a1a" stroke="#1a1a1a" stroke-width="0.14" textLength="15.2" lengthAdjust="spacingAndGlyphs" >1A.2</text>
<polygon points="99.10,420.74 102.90,420.74 101.00,417.06" fill="#4b1b6e"/>
<polygon points="278.65,415.80 281.45,418.60 278.65,421.40 275.85,418.60" fill="#4b1b6e"/>
<rect x="95.50" y="426.35" width="341.90" height="7.30" fill="#df8699" />
<line x1="92.20" y1="430.00" x2="95.00" y2="430.00" stroke="#2a2a2a" stroke-width="1.1" />
<text x="88.50" y="432.60" font-size="7.3" text-anchor="end" font-weight="normal" fill="#1a1a1a" stroke="#1a1a1a" stroke-width="0.14" textLength="15.2" lengthAdjust="spacingAndGlyphs" >1A.3</text>
<polygon points="99.10,432.14 102.90,432.14 101.00,428.46" fill="#4b1b6e"/>
<polygon points="437.40,427.20 440.20,430.00 437.40,432.80 434.60,430.00" fill="#4b1b6e"/>
<rect x="95.50" y="449.65" width="244.30" height="7.30" fill="#88a8c6" />
<line x1="92.20" y1="453.30" x2="95.00" y2="453.30" stroke="#2a2a2a" stroke-width="1.1" />
<text x="88.50" y="455.90" font-size="7.3" text-anchor="end" font-weight="normal" fill="#1a1a1a" stroke="#1a1a1a" stroke-width="0.14" textLength="15.2" lengthAdjust="spacingAndGlyphs" >2A.1</text>
<line x1="101.25" y1="453.30" x2="116.25" y2="453.30" stroke="#2f6698" stroke-width="1.3" />
<circle cx="101.25" cy="453.30" r="1.85" fill="#4b1b6e"/>
<polygon points="114.35,455.44 118.15,455.44 116.25,451.76" fill="#4b1b6e"/>
<rect x="95.50" y="460.95" width="236.20" height="7.30" fill="#fdc47e" />
<line x1="92.20" y1="464.60" x2="95.00" y2="464.60" stroke="#2a2a2a" stroke-width="1.1" />
<text x="88.50" y="467.20" font-size="7.3" text-anchor="end" font-weight="normal" fill="#1a1a1a" stroke="#1a1a1a" stroke-width="0.14" textLength="15.2" lengthAdjust="spacingAndGlyphs" >2A.2</text>
<line x1="101.25" y1="464.60" x2="112.25" y2="464.60" stroke="#d4232f" stroke-width="1.3" />
<circle cx="101.25" cy="464.60" r="1.85" fill="#4b1b6e"/>
<polygon points="110.35,466.74 114.15,466.74 112.25,463.06" fill="#4b1b6e"/>
<rect x="95.50" y="472.15" width="16.40" height="7.30" fill="#df8699" />
<line x1="92.20" y1="475.80" x2="95.00" y2="475.80" stroke="#2a2a2a" stroke-width="1.1" />
<text x="88.50" y="478.40" font-size="7.3" text-anchor="end" font-weight="normal" fill="#1a1a1a" stroke="#1a1a1a" stroke-width="0.14" textLength="15.2" lengthAdjust="spacingAndGlyphs" >2A.3</text>
<polygon points="100.60,477.94 104.40,477.94 102.50,474.26" fill="#4b1b6e"/>
<polygon points="111.90,473.00 114.70,475.80 111.90,478.60 109.10,475.80" fill="#4b1b6e"/>
<rect x="95.50" y="494.45" width="237.50" height="7.30" fill="#df8699" />
<line x1="92.20" y1="498.10" x2="95.00" y2="498.10" stroke="#2a2a2a" stroke-width="1.1" />
<text x="88.50" y="500.70" font-size="7.3" text-anchor="end" font-weight="normal" fill="#1a1a1a" stroke="#1a1a1a" stroke-width="0.14" textLength="15.2" lengthAdjust="spacingAndGlyphs" >3A.1</text>
<polygon points="100.60,500.24 104.40,500.24 102.50,496.56" fill="#4b1b6e"/>
<line x1="336.20" y1="498.10" x2="344.70" y2="498.10" stroke="#111" stroke-width="1.5" />
<polygon points="343.20,495.40 349.20,498.10 343.20,500.80" fill="#111"/>
<rect x="95.50" y="505.95" width="227.00" height="7.30" fill="#df8699" />
<line x1="92.20" y1="509.60" x2="95.00" y2="509.60" stroke="#2a2a2a" stroke-width="1.1" />
<text x="88.50" y="512.20" font-size="7.3" text-anchor="end" font-weight="normal" fill="#1a1a1a" stroke="#1a1a1a" stroke-width="0.14" textLength="15.2" lengthAdjust="spacingAndGlyphs" >3A.2</text>
<polygon points="100.60,511.74 104.40,511.74 102.50,508.06" fill="#4b1b6e"/>
<line x1="325.20" y1="509.60" x2="333.70" y2="509.60" stroke="#111" stroke-width="1.5" />
<polygon points="332.20,506.90 338.20,509.60 332.20,512.30" fill="#111"/>
<rect x="95.50" y="517.35" width="94.50" height="7.30" fill="#fdc47e" />
<line x1="92.20" y1="521.00" x2="95.00" y2="521.00" stroke="#2a2a2a" stroke-width="1.1" />
<text x="88.50" y="523.60" font-size="7.3" text-anchor="end" font-weight="normal" fill="#1a1a1a" stroke="#1a1a1a" stroke-width="0.14" textLength="15.2" lengthAdjust="spacingAndGlyphs" >3A.3</text>
<line x1="102.50" y1="521.00" x2="120.00" y2="521.00" stroke="#d4232f" stroke-width="1.3" />
<circle cx="102.50" cy="521.00" r="1.85" fill="#4b1b6e"/>
<polygon points="118.10,523.14 121.90,523.14 120.00,519.46" fill="#4b1b6e"/>
<line x1="193.20" y1="521.00" x2="200.70" y2="521.00" stroke="#111" stroke-width="1.5" />
<polygon points="199.20,518.30 205.20,521.00 199.20,523.70" fill="#111"/>
<rect x="95.50" y="539.45" width="130.80" height="7.30" fill="#fdc47e" />
<line x1="92.20" y1="543.10" x2="95.00" y2="543.10" stroke="#2a2a2a" stroke-width="1.1" />
<text x="88.50" y="545.70" font-size="7.3" text-anchor="end" font-weight="normal" fill="#1a1a1a" stroke="#1a1a1a" stroke-width="0.14" textLength="15.2" lengthAdjust="spacingAndGlyphs" >4A.1</text>
<line x1="102.30" y1="543.10" x2="139.20" y2="543.10" stroke="#d4232f" stroke-width="1.3" />
<circle cx="102.30" cy="543.10" r="1.85" fill="#4b1b6e"/>
<polygon points="137.30,545.24 141.10,545.24 139.20,541.56" fill="#4b1b6e"/>
<line x1="230.20" y1="543.10" x2="237.60" y2="543.10" stroke="#111" stroke-width="1.5" />
<polygon points="236.10,540.40 242.10,543.10 236.10,545.80" fill="#111"/>
<rect x="95.50" y="551.05" width="168.50" height="7.30" fill="#fdc47e" />
<line x1="92.20" y1="554.70" x2="95.00" y2="554.70" stroke="#2a2a2a" stroke-width="1.1" />
<text x="88.50" y="557.30" font-size="7.3" text-anchor="end" font-weight="normal" fill="#1a1a1a" stroke="#1a1a1a" stroke-width="0.14" textLength="15.2" lengthAdjust="spacingAndGlyphs" >4A.2</text>
<line x1="102.30" y1="554.70" x2="119.20" y2="554.70" stroke="#d4232f" stroke-width="1.3" />
<circle cx="102.30" cy="554.70" r="1.85" fill="#4b1b6e"/>
<polygon points="117.30,556.84 121.10,556.84 119.20,553.16" fill="#4b1b6e"/>
<line x1="267.30" y1="554.70" x2="275.40" y2="554.70" stroke="#111" stroke-width="1.5" />
<polygon points="273.90,552.00 279.90,554.70 273.90,557.40" fill="#111"/>
<rect x="95.50" y="562.65" width="166.40" height="7.30" fill="#a3dba2" />
<line x1="92.20" y1="566.30" x2="95.00" y2="566.30" stroke="#2a2a2a" stroke-width="1.1" />
<text x="88.50" y="568.90" font-size="7.3" text-anchor="end" font-weight="normal" fill="#1a1a1a" stroke="#1a1a1a" stroke-width="0.14" textLength="15.2" lengthAdjust="spacingAndGlyphs" >4A.3</text>
<line x1="102.30" y1="566.30" x2="261.90" y2="566.30" stroke="#45b54a" stroke-width="1.3" />
<circle cx="102.30" cy="566.30" r="1.85" fill="#4b1b6e"/>
<line x1="265.30" y1="566.30" x2="273.30" y2="566.30" stroke="#111" stroke-width="1.5" />
<polygon points="271.80,563.60 277.80,566.30 271.80,569.00" fill="#111"/>
<rect x="95.50" y="574.15" width="77.00" height="7.30" fill="#88a8c6" />
<line x1="92.20" y1="577.80" x2="95.00" y2="577.80" stroke="#2a2a2a" stroke-width="1.1" />
<text x="88.50" y="580.40" font-size="7.3" text-anchor="end" font-weight="normal" fill="#1a1a1a" stroke="#1a1a1a" stroke-width="0.14" textLength="15.2" lengthAdjust="spacingAndGlyphs" >4A.4</text>
<line x1="102.30" y1="577.80" x2="147.00" y2="577.80" stroke="#2f6698" stroke-width="1.3" />
<circle cx="102.30" cy="577.80" r="1.85" fill="#4b1b6e"/>
<polygon points="145.10,579.94 148.90,579.94 147.00,576.26" fill="#4b1b6e"/>
<line x1="175.70" y1="577.80" x2="183.20" y2="577.80" stroke="#111" stroke-width="1.5" />
<polygon points="181.70,575.10 187.70,577.80 181.70,580.50" fill="#111"/>
<rect x="95.50" y="585.85" width="4.00" height="7.30" fill="#df8699" />
<line x1="92.20" y1="589.50" x2="95.00" y2="589.50" stroke="#2a2a2a" stroke-width="1.1" />
<text x="88.50" y="592.10" font-size="7.3" text-anchor="end" font-weight="normal" fill="#1a1a1a" stroke="#1a1a1a" stroke-width="0.14" textLength="15.2" lengthAdjust="spacingAndGlyphs" >4A.5</text>
<polygon points="100.20,586.70 103.00,589.50 100.20,592.30 97.40,589.50" fill="#4b1b6e"/>
<rect x="95.50" y="597.35" width="70.80" height="7.30" fill="#fdc47e" />
<line x1="92.20" y1="601.00" x2="95.00" y2="601.00" stroke="#2a2a2a" stroke-width="1.1" />
<text x="88.50" y="603.60" font-size="7.3" text-anchor="end" font-weight="normal" fill="#1a1a1a" stroke="#1a1a1a" stroke-width="0.14" textLength="15.2" lengthAdjust="spacingAndGlyphs" >4A.6</text>
<line x1="101.40" y1="601.00" x2="107.50" y2="601.00" stroke="#d4232f" stroke-width="1.3" />
<circle cx="101.40" cy="601.00" r="1.85" fill="#4b1b6e"/>
<polygon points="105.60,603.14 109.40,603.14 107.50,599.46" fill="#4b1b6e"/>
<line x1="170.20" y1="601.00" x2="177.60" y2="601.00" stroke="#111" stroke-width="1.5" />
<polygon points="176.10,598.30 182.10,601.00 176.10,603.70" fill="#111"/>
<line x1="30.00" y1="441.60" x2="95.00" y2="441.60" stroke="#222" stroke-width="1.15" stroke-dasharray="2.9 1.75"/>
<line x1="30.00" y1="486.90" x2="95.00" y2="486.90" stroke="#222" stroke-width="1.15" stroke-dasharray="2.9 1.75"/>
<line x1="30.00" y1="532.00" x2="95.00" y2="532.00" stroke="#222" stroke-width="1.15" stroke-dasharray="2.9 1.75"/>
<text x="46.70" y="420.55" font-size="9.8" text-anchor="middle" font-weight="normal" fill="#1a1a1a" stroke="#1a1a1a" stroke-width="0.12" textLength="11.3" lengthAdjust="spacingAndGlyphs" >DL1</text>
<text x="46.70" y="466.50" font-size="9.8" text-anchor="middle" font-weight="normal" fill="#1a1a1a" stroke="#1a1a1a" stroke-width="0.12" textLength="11.3" lengthAdjust="spacingAndGlyphs" >DL2</text>
<text x="46.70" y="512.10" font-size="9.8" text-anchor="middle" font-weight="normal" fill="#1a1a1a" stroke="#1a1a1a" stroke-width="0.12" textLength="11.3" lengthAdjust="spacingAndGlyphs" >DL3</text>
<text x="46.70" y="571.00" font-size="9.8" text-anchor="middle" font-weight="normal" fill="#1a1a1a" stroke="#1a1a1a" stroke-width="0.12" textLength="11.3" lengthAdjust="spacingAndGlyphs" >DL4</text>
<line x1="402.70" y1="523.65" x2="416.50" y2="523.65" stroke="#4a80b4" stroke-width="1.6" />
<text x="419.00" y="526.05" font-size="6.95" text-anchor="start" font-weight="normal" fill="#1a1a1a" stroke="#1a1a1a" stroke-width="0.12" >Partial response</text>
<line x1="402.70" y1="535.20" x2="416.50" y2="535.20" stroke="#dd2a36" stroke-width="1.6" />
<text x="419.00" y="537.60" font-size="6.95" text-anchor="start" font-weight="normal" fill="#1a1a1a" stroke="#1a1a1a" stroke-width="0.12" >Stable disease</text>
<line x1="402.70" y1="546.75" x2="416.50" y2="546.75" stroke="#63c463" stroke-width="1.6" />
<text x="419.00" y="549.15" font-size="6.95" text-anchor="start" font-weight="normal" fill="#1a1a1a" stroke="#1a1a1a" stroke-width="0.12" >Complete response</text>
<circle cx="410.00" cy="558.30" r="1.80" fill="#4b1b6e"/>
<text x="419.00" y="560.70" font-size="6.95" text-anchor="start" font-weight="normal" fill="#1a1a1a" stroke="#1a1a1a" stroke-width="0.12" >Start of evaluation</text>
<polygon points="408.10,571.69 411.90,571.69 410.00,568.01" fill="#4b1b6e"/>
<text x="419.00" y="572.25" font-size="6.95" text-anchor="start" font-weight="normal" fill="#1a1a1a" stroke="#1a1a1a" stroke-width="0.12" >Progression</text>
<polygon points="410.00,578.50 412.90,581.40 410.00,584.30 407.10,581.40" fill="#4b1b6e"/>
<text x="419.00" y="583.80" font-size="6.95" text-anchor="start" font-weight="normal" fill="#1a1a1a" stroke="#1a1a1a" stroke-width="0.12" >Death</text>
<line x1="402.70" y1="592.95" x2="410.90" y2="592.95" stroke="#111" stroke-width="1.5" />
<polygon points="409.40,590.25 415.40,592.95 409.40,595.65" fill="#111"/>
<text x="419.00" y="595.35" font-size="6.95" text-anchor="start" font-weight="normal" fill="#1a1a1a" stroke="#1a1a1a" stroke-width="0.12" >Follow up on-going</text>
<text x="257.70" y="636.50" font-size="7.1" text-anchor="end" font-weight="normal" fill="#1a1a1a" stroke="#1a1a1a" stroke-width="0.12" textLength="33.0" lengthAdjust="spacingAndGlyphs" >Response</text>
<rect x="260.20" y="630.80" width="6.40" height="6.30" fill="#df8699" />
<text x="269.80" y="636.40" font-size="6.9" text-anchor="start" font-weight="normal" fill="#222" stroke="#222" stroke-width="0.12" >PD</text>
<rect x="286.00" y="630.80" width="6.40" height="6.30" fill="#fdc47e" />
<text x="295.60" y="636.40" font-size="6.9" text-anchor="start" font-weight="normal" fill="#222" stroke="#222" stroke-width="0.12" >SD</text>
<rect x="310.00" y="630.80" width="6.40" height="6.30" fill="#88a8c6" />
<text x="319.60" y="636.40" font-size="6.9" text-anchor="start" font-weight="normal" fill="#222" stroke="#222" stroke-width="0.12" >PR</text>
<rect x="334.60" y="630.80" width="6.40" height="6.30" fill="#a3dba2" />
<text x="344.20" y="636.40" font-size="6.9" text-anchor="start" font-weight="normal" fill="#222" stroke="#222" stroke-width="0.12" >CR</text>
<rect x="0.5" y="0.5" width="519" height="676" fill="none" stroke="#000" stroke-width="1.2"/>
</svg>
</body></html>
